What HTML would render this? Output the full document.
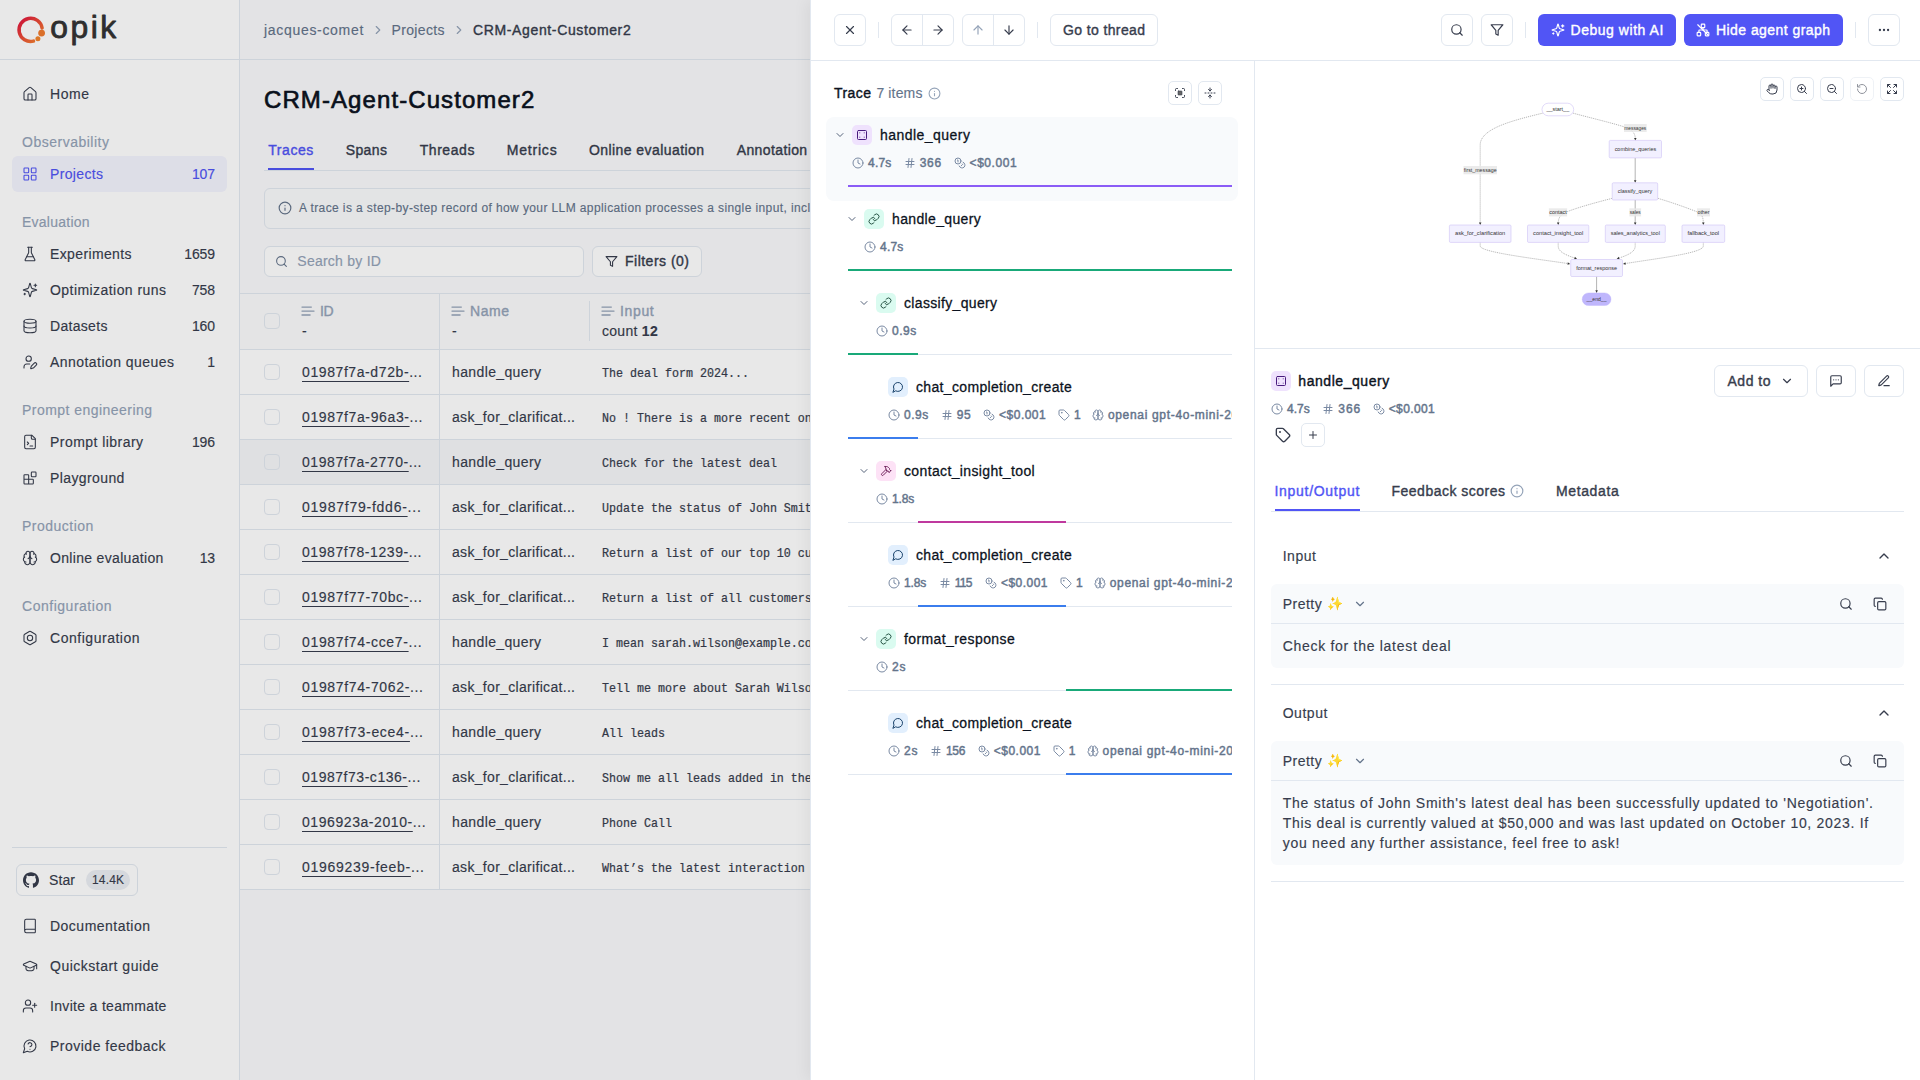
<!DOCTYPE html>
<html lang="en"><head><meta charset="utf-8"><title>Opik - CRM-Agent-Customer2</title>
<style>
html,body{margin:0;padding:0}
body{width:1920px;height:1080px;position:relative;overflow:hidden;background:#fff;font-family:"Liberation Sans",sans-serif;-webkit-font-smoothing:antialiased}
.b{position:absolute;display:block}
.t{position:absolute;white-space:nowrap;display:block}
.mono{font-family:"Liberation Mono",monospace;transform:scaleY(1.10);transform-origin:0 58%}
u{text-decoration:underline;text-underline-offset:4px;text-decoration-thickness:1px}
svg{display:block}
</style></head><body>
<aside>
<svg class="b" style="left:10px;top:5px" width="120" height="50" viewBox="10 5 120 50">
<defs><linearGradient id="lg" gradientUnits="userSpaceOnUse" x1="19" y1="18" x2="42" y2="42"><stop offset="0" stop-color="#E0103F"></stop><stop offset="1" stop-color="#F58B2E"></stop></linearGradient></defs>
<path d="M33.5 41.1 A11.6 11.6 0 1 1 42.1 28.1" fill="none" stroke="url(#lg)" stroke-width="3.5" stroke-linecap="round"></path>
<circle cx="41.6" cy="33.1" r="3.4" fill="#F07A2E"></circle><circle cx="37.9" cy="38.8" r="2.5" fill="#F2842E"></circle>
<text x="50.2" y="38.3" font-family="Liberation Sans, sans-serif" font-size="31.8" fill="#333" stroke="#333" stroke-width="0.85" stroke-linejoin="round" textLength="66" lengthAdjust="spacing">opik</text>
</svg>
<div class="b" style="left:0px;top:59px;width:239px;height:1px;background:#E2E8F0"></div>
<div class="b" style="left:239px;top:0px;width:1px;height:1080px;background:#E2E8F0"></div>
<svg width="16" height="16" viewBox="0 0 24 24" fill="none" stroke="#373D4D" stroke-width="1.6" stroke-linecap="round" stroke-linejoin="round" style="flex:none;position:absolute;left:22px;top:86px;"><path d="M15 21v-8a1 1 0 0 0-1-1h-4a1 1 0 0 0-1 1v8"></path><path d="M3 10a2 2 0 0 1 .709-1.528l7-5.999a2 2 0 0 1 2.582 0l7 5.999A2 2 0 0 1 21 10v9a2 2 0 0 1-2 2H5a2 2 0 0 1-2-2z"></path></svg><span class="t " style="left: 50px; top: 84px; font-size: 14px; line-height: 20px; color: rgb(55, 61, 77); font-weight: 400; -webkit-text-stroke: 0.15px rgb(55, 61, 77); letter-spacing: 0.547px;">Home</span>
<span class="t " style="left: 22px; top: 132px; font-size: 14px; line-height: 20px; color: rgb(148, 163, 184); font-weight: 400; -webkit-text-stroke: 0.15px rgb(148, 163, 184); letter-spacing: 0.507px;">Observability</span>
<div class="b" style="left:12px;top:156px;width:215px;height:36px;background:#F3F4FE;border-radius:6px"></div><svg width="16" height="16" viewBox="0 0 24 24" fill="none" stroke="#5155F5" stroke-width="1.6" stroke-linecap="round" stroke-linejoin="round" style="flex:none;position:absolute;left:22px;top:166px;"><rect width="7" height="7" x="3" y="3" rx="1"></rect><rect width="7" height="7" x="14" y="3" rx="1"></rect><rect width="7" height="7" x="14" y="14" rx="1"></rect><rect width="7" height="7" x="3" y="14" rx="1"></rect></svg><span class="t " style="left: 50px; top: 164px; font-size: 14px; line-height: 20px; color: rgb(81, 85, 245); font-weight: 400; -webkit-text-stroke: 0.15px rgb(81, 85, 245); letter-spacing: 0.346px;">Projects</span><span class="t " style="right:1705px;top:164.0px;font-size:14px;line-height:20px;color:#5155F5;font-weight:400;-webkit-text-stroke:0.15px #5155F5;letter-spacing:-0.1px">107</span>
<span class="t " style="left: 22px; top: 212px; font-size: 14px; line-height: 20px; color: rgb(148, 163, 184); font-weight: 400; -webkit-text-stroke: 0.15px rgb(148, 163, 184); letter-spacing: 0.245px;">Evaluation</span>
<svg width="16" height="16" viewBox="0 0 24 24" fill="none" stroke="#373D4D" stroke-width="1.6" stroke-linecap="round" stroke-linejoin="round" style="flex:none;position:absolute;left:22px;top:246px;"><path d="M10 2v7.527a2 2 0 0 1-.211.896L4.72 20.55a1 1 0 0 0 .9 1.45h12.76a1 1 0 0 0 .9-1.45l-5.069-10.127A2 2 0 0 1 14 9.527V2"></path><path d="M8.5 2h7"></path><path d="M7 16h10"></path></svg><span class="t " style="left: 50px; top: 244px; font-size: 14px; line-height: 20px; color: rgb(55, 61, 77); font-weight: 400; -webkit-text-stroke: 0.15px rgb(55, 61, 77); letter-spacing: 0.369px;">Experiments</span><span class="t " style="right:1705px;top:244.0px;font-size:14px;line-height:20px;color:#373D4D;font-weight:400;-webkit-text-stroke:0.15px #373D4D;letter-spacing:-0.1px">1659</span>
<svg width="16" height="16" viewBox="0 0 24 24" fill="none" stroke="#373D4D" stroke-width="1.6" stroke-linecap="round" stroke-linejoin="round" style="flex:none;position:absolute;left:22px;top:282px;"><path d="M9.937 15.5A2 2 0 0 0 8.5 14.063l-6.135-1.582a.5.5 0 0 1 0-.962L8.5 9.936A2 2 0 0 0 9.937 8.5l1.582-6.135a.5.5 0 0 1 .963 0L14.063 8.5A2 2 0 0 0 15.5 9.937l6.135 1.581a.5.5 0 0 1 0 .964L15.5 14.063a2 2 0 0 0-1.437 1.437l-1.582 6.135a.5.5 0 0 1-.963 0z"></path><path d="M20 3v4"></path><path d="M22 5h-4"></path><path d="M4 17v2"></path><path d="M5 18H3"></path></svg><span class="t " style="left: 50px; top: 280px; font-size: 14px; line-height: 20px; color: rgb(55, 61, 77); font-weight: 400; -webkit-text-stroke: 0.15px rgb(55, 61, 77); letter-spacing: 0.441px;">Optimization runs</span><span class="t " style="right:1705px;top:280.0px;font-size:14px;line-height:20px;color:#373D4D;font-weight:400;-webkit-text-stroke:0.15px #373D4D;letter-spacing:-0.1px">758</span>
<svg width="16" height="16" viewBox="0 0 24 24" fill="none" stroke="#373D4D" stroke-width="1.6" stroke-linecap="round" stroke-linejoin="round" style="flex:none;position:absolute;left:22px;top:318px;"><ellipse cx="12" cy="5" rx="9" ry="3"></ellipse><path d="M3 5V19A9 3 0 0 0 21 19V5"></path><path d="M3 12A9 3 0 0 0 21 12"></path></svg><span class="t " style="left: 50px; top: 316px; font-size: 14px; line-height: 20px; color: rgb(55, 61, 77); font-weight: 400; -webkit-text-stroke: 0.15px rgb(55, 61, 77); letter-spacing: 0.307px;">Datasets</span><span class="t " style="right:1705px;top:316.0px;font-size:14px;line-height:20px;color:#373D4D;font-weight:400;-webkit-text-stroke:0.15px #373D4D;letter-spacing:-0.1px">160</span>
<svg width="16" height="16" viewBox="0 0 24 24" fill="none" stroke="#373D4D" stroke-width="1.6" stroke-linecap="round" stroke-linejoin="round" style="flex:none;position:absolute;left:22px;top:354px;"><path d="M11.5 15H7a4 4 0 0 0-4 4v2"></path><path d="M21.378 16.626a1 1 0 0 0-3.004-3.004l-4.01 4.012a2 2 0 0 0-.506.854l-.837 2.87a.5.5 0 0 0 .62.62l2.87-.837a2 2 0 0 0 .854-.506z"></path><circle cx="10" cy="7" r="4"></circle></svg><span class="t " style="left: 50px; top: 352px; font-size: 14px; line-height: 20px; color: rgb(55, 61, 77); font-weight: 400; -webkit-text-stroke: 0.15px rgb(55, 61, 77); letter-spacing: 0.452px;">Annotation queues</span><span class="t " style="right:1705px;top:352.0px;font-size:14px;line-height:20px;color:#373D4D;font-weight:400;-webkit-text-stroke:0.15px #373D4D;letter-spacing:-0.1px">1</span>
<span class="t " style="left: 22px; top: 400px; font-size: 14px; line-height: 20px; color: rgb(148, 163, 184); font-weight: 400; -webkit-text-stroke: 0.15px rgb(148, 163, 184); letter-spacing: 0.46px;">Prompt engineering</span>
<svg width="16" height="16" viewBox="0 0 24 24" fill="none" stroke="#373D4D" stroke-width="1.6" stroke-linecap="round" stroke-linejoin="round" style="flex:none;position:absolute;left:22px;top:434px;"><path d="M15 2H6a2 2 0 0 0-2 2v16a2 2 0 0 0 2 2h12a2 2 0 0 0 2-2V7Z"></path><path d="M14 2v4a2 2 0 0 0 2 2h4"></path><path d="m8 16 2-2-2-2"></path><path d="M12 18h4"></path></svg><span class="t " style="left: 50px; top: 432px; font-size: 14px; line-height: 20px; color: rgb(55, 61, 77); font-weight: 400; -webkit-text-stroke: 0.15px rgb(55, 61, 77); letter-spacing: 0.451px;">Prompt library</span><span class="t " style="right:1705px;top:432.0px;font-size:14px;line-height:20px;color:#373D4D;font-weight:400;-webkit-text-stroke:0.15px #373D4D;letter-spacing:-0.1px">196</span>
<svg width="16" height="16" viewBox="0 0 24 24" fill="none" stroke="#373D4D" stroke-width="1.6" stroke-linecap="round" stroke-linejoin="round" style="flex:none;position:absolute;left:22px;top:470px;"><rect width="7" height="7" x="14" y="3" rx="1"></rect><path d="M10 21V8a1 1 0 0 0-1-1H4a1 1 0 0 0-1 1v12a1 1 0 0 0 1 1h12a1 1 0 0 0 1-1v-5a1 1 0 0 0-1-1H3"></path></svg><span class="t " style="left: 50px; top: 468px; font-size: 14px; line-height: 20px; color: rgb(55, 61, 77); font-weight: 400; -webkit-text-stroke: 0.15px rgb(55, 61, 77); letter-spacing: 0.397px;">Playground</span>
<span class="t " style="left: 22px; top: 516px; font-size: 14px; line-height: 20px; color: rgb(148, 163, 184); font-weight: 400; -webkit-text-stroke: 0.15px rgb(148, 163, 184); letter-spacing: 0.485px;">Production</span>
<svg width="16" height="16" viewBox="0 0 24 24" fill="none" stroke="#373D4D" stroke-width="1.6" stroke-linecap="round" stroke-linejoin="round" style="flex:none;position:absolute;left:22px;top:550px;"><path d="M12 5a3 3 0 1 0-5.997.125 4 4 0 0 0-2.526 5.77 4 4 0 0 0 .556 6.588A4 4 0 1 0 12 18Z"></path><path d="M12 5a3 3 0 1 1 5.997.125 4 4 0 0 1 2.526 5.77 4 4 0 0 1-.556 6.588A4 4 0 1 1 12 18Z"></path><path d="M15 13a4.5 4.5 0 0 1-3-4 4.5 4.5 0 0 1-3 4"></path><path d="M17.599 6.5a3 3 0 0 0 .399-1.375"></path><path d="M6.003 5.125A3 3 0 0 0 6.401 6.5"></path><path d="M3.477 10.896a4 4 0 0 1 .585-.396"></path><path d="M19.938 10.5a4 4 0 0 1 .585.396"></path><path d="M6 18a4 4 0 0 1-1.967-.516"></path><path d="M19.967 17.484A4 4 0 0 1 18 18"></path></svg><span class="t " style="left: 50px; top: 548px; font-size: 14px; line-height: 20px; color: rgb(55, 61, 77); font-weight: 400; -webkit-text-stroke: 0.15px rgb(55, 61, 77); letter-spacing: 0.32px;">Online evaluation</span><span class="t " style="right:1705px;top:548.0px;font-size:14px;line-height:20px;color:#373D4D;font-weight:400;-webkit-text-stroke:0.15px #373D4D;letter-spacing:-0.1px">13</span>
<span class="t " style="left: 22px; top: 596px; font-size: 14px; line-height: 20px; color: rgb(148, 163, 184); font-weight: 400; -webkit-text-stroke: 0.15px rgb(148, 163, 184); letter-spacing: 0.518px;">Configuration</span>
<svg width="16" height="16" viewBox="0 0 24 24" fill="none" stroke="#373D4D" stroke-width="1.6" stroke-linecap="round" stroke-linejoin="round" style="flex:none;position:absolute;left:22px;top:630px;"><path d="M21 16V8a2 2 0 0 0-1-1.73l-7-4a2 2 0 0 0-2 0l-7 4A2 2 0 0 0 3 8v8a2 2 0 0 0 1 1.73l7 4a2 2 0 0 0 2 0l7-4A2 2 0 0 0 21 16z"></path><circle cx="12" cy="12" r="4"></circle></svg><span class="t " style="left: 50px; top: 628px; font-size: 14px; line-height: 20px; color: rgb(55, 61, 77); font-weight: 400; -webkit-text-stroke: 0.15px rgb(55, 61, 77); letter-spacing: 0.527px;">Configuration</span>
<div class="b" style="left:12px;top:847px;width:215px;height:1px;background:#E2E8F0"></div>
<div class="b" style="left:16px;top:864px;width:122px;height:32px;border:1px solid #E2E8F0;border-radius:6px;box-sizing:border-box"></div>
<svg class="b" style="left:23px;top:872px" width="16" height="16" viewBox="0 0 24 24"><path fill="#373D4D" d="M12 .297c-6.63 0-12 5.373-12 12 0 5.303 3.438 9.8 8.205 11.385.6.113.82-.258.82-.577 0-.285-.01-1.04-.015-2.04-3.338.724-4.042-1.61-4.042-1.61C4.422 18.07 3.633 17.7 3.633 17.7c-1.087-.744.084-.729.084-.729 1.205.084 1.838 1.236 1.838 1.236 1.07 1.835 2.809 1.305 3.495.998.108-.776.417-1.305.76-1.605-2.665-.3-5.466-1.332-5.466-5.93 0-1.31.465-2.38 1.235-3.22-.135-.303-.54-1.523.105-3.176 0 0 1.005-.322 3.3 1.23.96-.267 1.98-.399 3-.405 1.02.006 2.04.138 3 .405 2.28-1.552 3.285-1.23 3.285-1.23.645 1.653.24 2.873.12 3.176.765.84 1.23 1.91 1.23 3.22 0 4.61-2.805 5.625-5.475 5.92.42.36.81 1.096.81 2.22 0 1.606-.015 2.896-.015 3.286 0 .315.21.69.825.57C20.565 22.092 24 17.592 24 12.297c0-6.627-5.373-12-12-12"></path></svg>
<span class="t " style="left: 49px; top: 870px; font-size: 14px; line-height: 20px; color: rgb(55, 61, 77); font-weight: 400; -webkit-text-stroke: 0.15px rgb(55, 61, 77); letter-spacing: 0.104px;">Star</span>
<div class="b" style="left:86px;top:870px;width:44px;height:20px;background:#EBEEF3;border-radius:10px"></div>
<span class="t " style="left: 92px; top: 872px; font-size: 12px; line-height: 16px; color: rgb(55, 61, 77); font-weight: 400; -webkit-text-stroke: 0.13px rgb(55, 61, 77); letter-spacing: 0.16px;">14.4K</span>
<svg width="16" height="16" viewBox="0 0 24 24" fill="none" stroke="#373D4D" stroke-width="1.6" stroke-linecap="round" stroke-linejoin="round" style="flex:none;position:absolute;left:22px;top:918px;"><path d="M4 19.5v-15A2.5 2.5 0 0 1 6.5 2H19a1 1 0 0 1 1 1v18a1 1 0 0 1-1 1H6.5a1 1 0 0 1 0-5H20"></path></svg><span class="t " style="left: 50px; top: 916px; font-size: 14px; line-height: 20px; color: rgb(55, 61, 77); font-weight: 400; -webkit-text-stroke: 0.15px rgb(55, 61, 77); letter-spacing: 0.486px;">Documentation</span>
<svg width="16" height="16" viewBox="0 0 24 24" fill="none" stroke="#373D4D" stroke-width="1.6" stroke-linecap="round" stroke-linejoin="round" style="flex:none;position:absolute;left:22px;top:958px;"><path d="M21.42 10.922a1 1 0 0 0-.019-1.838L12.83 5.18a2 2 0 0 0-1.66 0L2.6 9.08a1 1 0 0 0 0 1.832l8.57 3.908a2 2 0 0 0 1.66 0z"></path><path d="M22 10v6"></path><path d="M6 12.5V16a6 3 0 0 0 12 0v-3.5"></path></svg><span class="t " style="left: 50px; top: 956px; font-size: 14px; line-height: 20px; color: rgb(55, 61, 77); font-weight: 400; -webkit-text-stroke: 0.15px rgb(55, 61, 77); letter-spacing: 0.495px;">Quickstart guide</span>
<svg width="16" height="16" viewBox="0 0 24 24" fill="none" stroke="#373D4D" stroke-width="1.6" stroke-linecap="round" stroke-linejoin="round" style="flex:none;position:absolute;left:22px;top:998px;"><path d="M16 21v-2a4 4 0 0 0-4-4H6a4 4 0 0 0-4 4v2"></path><circle cx="9" cy="7" r="4"></circle><line x1="19" x2="19" y1="8" y2="14"></line><line x1="22" x2="16" y1="11" y2="11"></line></svg><span class="t " style="left: 50px; top: 996px; font-size: 14px; line-height: 20px; color: rgb(55, 61, 77); font-weight: 400; -webkit-text-stroke: 0.15px rgb(55, 61, 77); letter-spacing: 0.32px;">Invite a teammate</span>
<svg width="16" height="16" viewBox="0 0 24 24" fill="none" stroke="#373D4D" stroke-width="1.6" stroke-linecap="round" stroke-linejoin="round" style="flex:none;position:absolute;left:22px;top:1038px;"><path d="M7.9 20A9 9 0 1 0 4 16.1L2 22Z"></path><path d="M9.09 9a3 3 0 0 1 5.83 1c0 2-3 3-3 3"></path><path d="M12 17h.01"></path></svg><span class="t " style="left: 50px; top: 1036px; font-size: 14px; line-height: 20px; color: rgb(55, 61, 77); font-weight: 400; -webkit-text-stroke: 0.15px rgb(55, 61, 77); letter-spacing: 0.494px;">Provide feedback</span>
</aside>
<main>
<div class="b" style="left:240px;top:0px;width:680px;height:1080px;background:#FAFAFC"></div>
<div class="b" style="left:240px;top:59px;width:680px;height:1px;background:#E2E8F0"></div>
<span class="t " style="left: 264px; top: 20px; font-size: 14px; line-height: 20px; color: rgb(100, 116, 139); font-weight: 400; -webkit-text-stroke: 0.15px rgb(100, 116, 139); letter-spacing: 0.688px;">jacques-comet</span>
<svg width="14" height="14" viewBox="0 0 24 24" fill="none" stroke="#94A3B8" stroke-width="2" stroke-linecap="round" stroke-linejoin="round" style="flex:none;position:absolute;left:371px;top:23px;"><path d="m9 18 6-6-6-6"></path></svg>
<span class="t " style="left: 391.5px; top: 20px; font-size: 14px; line-height: 20px; color: rgb(100, 116, 139); font-weight: 400; -webkit-text-stroke: 0.15px rgb(100, 116, 139); letter-spacing: 0.346px;">Projects</span>
<svg width="14" height="14" viewBox="0 0 24 24" fill="none" stroke="#94A3B8" stroke-width="2" stroke-linecap="round" stroke-linejoin="round" style="flex:none;position:absolute;left:452px;top:23px;"><path d="m9 18 6-6-6-6"></path></svg>
<span class="t " style="left: 473px; top: 20px; font-size: 14px; line-height: 20px; color: rgb(55, 61, 77); font-weight: 400; -webkit-text-stroke: 0.38px rgb(55, 61, 77); letter-spacing: 0.635px;">CRM-Agent-Customer2</span>
<span class="t h1" style="left: 264px; top: 84px; font-size: 24px; line-height: 32px; color: rgb(11, 18, 32); font-weight: 400; -webkit-text-stroke: 0.65px rgb(11, 18, 32); letter-spacing: 1.087px;">CRM-Agent-Customer2</span>
<span class="t " style="left: 268.3px; top: 140px; font-size: 14px; line-height: 20px; color: rgb(81, 85, 245); font-weight: 400; -webkit-text-stroke: 0.38px rgb(81, 85, 245); letter-spacing: 0.544px;">Traces</span>
<span class="t " style="left: 345.7px; top: 140px; font-size: 14px; line-height: 20px; color: rgb(55, 61, 77); font-weight: 400; -webkit-text-stroke: 0.38px rgb(55, 61, 77); letter-spacing: 0.399px;">Spans</span>
<span class="t " style="left: 419.7px; top: 140px; font-size: 14px; line-height: 20px; color: rgb(55, 61, 77); font-weight: 400; -webkit-text-stroke: 0.38px rgb(55, 61, 77); letter-spacing: 0.557px;">Threads</span>
<span class="t " style="left: 506.7px; top: 140px; font-size: 14px; line-height: 20px; color: rgb(55, 61, 77); font-weight: 400; -webkit-text-stroke: 0.38px rgb(55, 61, 77); letter-spacing: 0.813px;">Metrics</span>
<span class="t " style="left: 589px; top: 140px; font-size: 14px; line-height: 20px; color: rgb(55, 61, 77); font-weight: 400; -webkit-text-stroke: 0.38px rgb(55, 61, 77); letter-spacing: 0.426px;">Online evaluation</span>
<span class="t " style="left: 736.7px; top: 140px; font-size: 14px; line-height: 20px; color: rgb(55, 61, 77); font-weight: 400; -webkit-text-stroke: 0.38px rgb(55, 61, 77); letter-spacing: 0.39px;">Annotation queues</span>
<div class="b" style="left:264px;top:170px;width:680px;height:1px;background:#E2E8F0"></div>
<div class="b" style="left:268px;top:168px;width:45.5px;height:2px;background:#5155F5"></div>
<div class="b" style="left:264px;top:188px;width:700px;height:41px;border:1px solid #E2E8F0;border-radius:6px;box-sizing:border-box;background:#FAFBFC"></div>
<svg width="14" height="14" viewBox="0 0 24 24" fill="none" stroke="#64748B" stroke-width="2" stroke-linecap="round" stroke-linejoin="round" style="flex:none;position:absolute;left:278px;top:201px;"><circle cx="12" cy="12" r="10"></circle><path d="M12 16v-4"></path><path d="M12 8h.01"></path></svg>
<span class="t " style="left:299px;top:200.0px;font-size:12px;line-height:16px;color:#64748B;font-weight:400;-webkit-text-stroke:0.13px #64748B;letter-spacing:0.395px;white-space:nowrap">A trace is a step-by-step record of how your LLM application processes a single input, including LLM calls, tool usage and more.</span>
<div class="b" style="left:264px;top:245.6px;width:320px;height:31px;border:1px solid #E2E8F0;border-radius:6px;box-sizing:border-box;background:#fff"></div>
<svg width="13" height="13" viewBox="0 0 24 24" fill="none" stroke="#64748B" stroke-width="2" stroke-linecap="round" stroke-linejoin="round" style="flex:none;position:absolute;left:274.5px;top:254.5px;"><circle cx="11" cy="11" r="8"></circle><path d="m21 21-4.3-4.3"></path></svg>
<span class="t " style="left: 297.3px; top: 251px; font-size: 14px; line-height: 20px; color: rgb(148, 163, 184); font-weight: 400; -webkit-text-stroke: 0.15px rgb(148, 163, 184); letter-spacing: 0.251px;">Search by ID</span>
<div class="b" style="left:592px;top:245.6px;width:110px;height:31px;border:1px solid #E2E8F0;border-radius:6px;box-sizing:border-box;background:#fff"></div>
<svg width="13" height="13" viewBox="0 0 24 24" fill="none" stroke="#373D4D" stroke-width="2" stroke-linecap="round" stroke-linejoin="round" style="flex:none;position:absolute;left:605px;top:254.5px;"><polygon points="22 3 2 3 10 12.46 10 19 14 21 14 12.46 22 3"></polygon></svg>
<span class="t " style="left: 625px; top: 251px; font-size: 14px; line-height: 20px; color: rgb(55, 61, 77); font-weight: 400; -webkit-text-stroke: 0.38px rgb(55, 61, 77); letter-spacing: 0.487px;">Filters (0)</span>
<div class="b" style="left:240px;top:293px;width:680px;height:1px;background:#E2E8F0"></div>
<div class="b" style="left:240px;top:294px;width:680px;height:55px;background:#FBFBFC"></div>
<div class="b" style="left:240px;top:350px;width:680px;height:44px;background:#FFFFFF"></div>
<div class="b" style="left:240px;top:394px;width:680px;height:1px;background:#E2E8F0"></div>
<div class="b" style="left:240px;top:395px;width:680px;height:44px;background:#FFFFFF"></div>
<div class="b" style="left:240px;top:439px;width:680px;height:1px;background:#E2E8F0"></div>
<div class="b" style="left:240px;top:440px;width:680px;height:44px;background:#F6F7F9"></div>
<div class="b" style="left:240px;top:484px;width:680px;height:1px;background:#E2E8F0"></div>
<div class="b" style="left:240px;top:485px;width:680px;height:44px;background:#FFFFFF"></div>
<div class="b" style="left:240px;top:529px;width:680px;height:1px;background:#E2E8F0"></div>
<div class="b" style="left:240px;top:530px;width:680px;height:44px;background:#FFFFFF"></div>
<div class="b" style="left:240px;top:574px;width:680px;height:1px;background:#E2E8F0"></div>
<div class="b" style="left:240px;top:575px;width:680px;height:44px;background:#FFFFFF"></div>
<div class="b" style="left:240px;top:619px;width:680px;height:1px;background:#E2E8F0"></div>
<div class="b" style="left:240px;top:620px;width:680px;height:44px;background:#FFFFFF"></div>
<div class="b" style="left:240px;top:664px;width:680px;height:1px;background:#E2E8F0"></div>
<div class="b" style="left:240px;top:665px;width:680px;height:44px;background:#FFFFFF"></div>
<div class="b" style="left:240px;top:709px;width:680px;height:1px;background:#E2E8F0"></div>
<div class="b" style="left:240px;top:710px;width:680px;height:44px;background:#FFFFFF"></div>
<div class="b" style="left:240px;top:754px;width:680px;height:1px;background:#E2E8F0"></div>
<div class="b" style="left:240px;top:755px;width:680px;height:44px;background:#FFFFFF"></div>
<div class="b" style="left:240px;top:799px;width:680px;height:1px;background:#E2E8F0"></div>
<div class="b" style="left:240px;top:800px;width:680px;height:44px;background:#FFFFFF"></div>
<div class="b" style="left:240px;top:844px;width:680px;height:1px;background:#E2E8F0"></div>
<div class="b" style="left:240px;top:845px;width:680px;height:44px;background:#FFFFFF"></div>
<div class="b" style="left:240px;top:889px;width:680px;height:1px;background:#E2E8F0"></div>
<div class="b" style="left:240px;top:349px;width:680px;height:1px;background:#E2E8F0"></div>
<div class="b" style="left:439px;top:294px;width:1px;height:596px;background:#E2E8F0"></div>
<div class="b" style="left:589px;top:301px;width:1px;height:40px;background:#E2E8F0"></div>
<div class="b" style="left:264px;top:313px;width:16px;height:16px;border:1px solid #E2E8F0;border-radius:4px;box-sizing:border-box;background:transparent"></div>
<svg width="16" height="16" viewBox="0 0 24 24" fill="none" stroke="#94A3B8" stroke-width="2" stroke-linecap="round" stroke-linejoin="round" style="flex:none;position:absolute;left:300px;top:303.3px;"><path d="M17 6.1H3"></path><path d="M21 12.1H3"></path><path d="M15.1 18H3"></path></svg>
<span class="t " style="left: 320px; top: 301px; font-size: 14px; line-height: 20px; color: rgb(148, 163, 184); font-weight: 400; -webkit-text-stroke: 0.38px rgb(148, 163, 184); letter-spacing: -0.5px;">ID</span>
<svg width="16" height="16" viewBox="0 0 24 24" fill="none" stroke="#94A3B8" stroke-width="2" stroke-linecap="round" stroke-linejoin="round" style="flex:none;position:absolute;left:450px;top:303.3px;"><path d="M17 6.1H3"></path><path d="M21 12.1H3"></path><path d="M15.1 18H3"></path></svg>
<span class="t " style="left: 470px; top: 301px; font-size: 14px; line-height: 20px; color: rgb(148, 163, 184); font-weight: 400; -webkit-text-stroke: 0.38px rgb(148, 163, 184); letter-spacing: 0.547px;">Name</span>
<svg width="16" height="16" viewBox="0 0 24 24" fill="none" stroke="#94A3B8" stroke-width="2" stroke-linecap="round" stroke-linejoin="round" style="flex:none;position:absolute;left:600px;top:303.3px;"><path d="M17 6.1H3"></path><path d="M21 12.1H3"></path><path d="M15.1 18H3"></path></svg>
<span class="t " style="left: 620px; top: 301px; font-size: 14px; line-height: 20px; color: rgb(148, 163, 184); font-weight: 400; -webkit-text-stroke: 0.38px rgb(148, 163, 184); letter-spacing: 0.64px;">Input</span>
<span class="t " style="left:302px;top:321.0px;font-size:14px;line-height:20px;color:#373D4D;font-weight:400;-webkit-text-stroke:0.15px #373D4D;">-</span>
<span class="t " style="left:452px;top:321.0px;font-size:14px;line-height:20px;color:#373D4D;font-weight:400;-webkit-text-stroke:0.15px #373D4D;">-</span>
<span class="t " style="left: 602px; top: 321px; font-size: 14px; line-height: 20px; color: rgb(55, 61, 77); font-weight: 400; -webkit-text-stroke: 0.15px rgb(55, 61, 77); letter-spacing: 0.283px;">count <b style="font-weight:700">12</b></span>
<div class="b" style="left:264px;top:364px;width:16px;height:16px;border:1px solid #E2E8F0;border-radius:4px;box-sizing:border-box;background:transparent"></div>
<span class="t " style="left: 302px; top: 362px; font-size: 14px; line-height: 20px; color: rgb(55, 61, 77); font-weight: 400; -webkit-text-stroke: 0.15px rgb(55, 61, 77); letter-spacing: 0.591px;"><u>01987f7a-d72b-</u>...</span>
<span class="t " style="left: 452px; top: 362px; font-size: 14px; line-height: 20px; color: rgb(55, 61, 77); font-weight: 400; -webkit-text-stroke: 0.15px rgb(55, 61, 77); letter-spacing: 0.376px;">handle_query</span>
<span class="t mono" style="left:602px;top:366.0px;font-size:11.67px;line-height:16px;color:#373D4D;font-weight:400;white-space:pre;-webkit-text-stroke:0.2px #373D4D">The deal form 2024...</span>
<div class="b" style="left:264px;top:409px;width:16px;height:16px;border:1px solid #E2E8F0;border-radius:4px;box-sizing:border-box;background:transparent"></div>
<span class="t " style="left: 302px; top: 407px; font-size: 14px; line-height: 20px; color: rgb(55, 61, 77); font-weight: 400; -webkit-text-stroke: 0.15px rgb(55, 61, 77); letter-spacing: 0.622px;"><u>01987f7a-96a3-</u>...</span>
<span class="t " style="left: 452px; top: 407px; font-size: 14px; line-height: 20px; color: rgb(55, 61, 77); font-weight: 400; -webkit-text-stroke: 0.15px rgb(55, 61, 77); letter-spacing: 0.314px;">ask_for_clarificat...</span>
<span class="t mono" style="left:602px;top:411.0px;font-size:11.67px;line-height:16px;color:#373D4D;font-weight:400;white-space:pre;-webkit-text-stroke:0.2px #373D4D">No ! There is a more recent one I believe</span>
<div class="b" style="left:264px;top:454px;width:16px;height:16px;border:1px solid #E2E8F0;border-radius:4px;box-sizing:border-box;background:transparent"></div>
<span class="t " style="left: 302px; top: 452px; font-size: 14px; line-height: 20px; color: rgb(55, 61, 77); font-weight: 400; -webkit-text-stroke: 0.15px rgb(55, 61, 77); letter-spacing: 0.56px;"><u>01987f7a-2770-</u>...</span>
<span class="t " style="left: 452px; top: 452px; font-size: 14px; line-height: 20px; color: rgb(55, 61, 77); font-weight: 400; -webkit-text-stroke: 0.15px rgb(55, 61, 77); letter-spacing: 0.376px;">handle_query</span>
<span class="t mono" style="left:602px;top:456.0px;font-size:11.67px;line-height:16px;color:#373D4D;font-weight:400;white-space:pre;-webkit-text-stroke:0.2px #373D4D">Check for the latest deal</span>
<div class="b" style="left:264px;top:499px;width:16px;height:16px;border:1px solid #E2E8F0;border-radius:4px;box-sizing:border-box;background:transparent"></div>
<span class="t " style="left: 302px; top: 497px; font-size: 14px; line-height: 20px; color: rgb(55, 61, 77); font-weight: 400; -webkit-text-stroke: 0.15px rgb(55, 61, 77); letter-spacing: 0.76px;"><u>01987f79-fdd6-</u>...</span>
<span class="t " style="left: 452px; top: 497px; font-size: 14px; line-height: 20px; color: rgb(55, 61, 77); font-weight: 400; -webkit-text-stroke: 0.15px rgb(55, 61, 77); letter-spacing: 0.314px;">ask_for_clarificat...</span>
<span class="t mono" style="left:602px;top:501.0px;font-size:11.67px;line-height:16px;color:#373D4D;font-weight:400;white-space:pre;-webkit-text-stroke:0.2px #373D4D">Update the status of John Smith's latest deal</span>
<div class="b" style="left:264px;top:544px;width:16px;height:16px;border:1px solid #E2E8F0;border-radius:4px;box-sizing:border-box;background:transparent"></div>
<span class="t " style="left: 302px; top: 542px; font-size: 14px; line-height: 20px; color: rgb(55, 61, 77); font-weight: 400; -webkit-text-stroke: 0.15px rgb(55, 61, 77); letter-spacing: 0.56px;"><u>01987f78-1239-</u>...</span>
<span class="t " style="left: 452px; top: 542px; font-size: 14px; line-height: 20px; color: rgb(55, 61, 77); font-weight: 400; -webkit-text-stroke: 0.15px rgb(55, 61, 77); letter-spacing: 0.314px;">ask_for_clarificat...</span>
<span class="t mono" style="left:602px;top:546.0px;font-size:11.67px;line-height:16px;color:#373D4D;font-weight:400;white-space:pre;-webkit-text-stroke:0.2px #373D4D">Return a list of our top 10 customers</span>
<div class="b" style="left:264px;top:589px;width:16px;height:16px;border:1px solid #E2E8F0;border-radius:4px;box-sizing:border-box;background:transparent"></div>
<span class="t " style="left: 302px; top: 587px; font-size: 14px; line-height: 20px; color: rgb(55, 61, 77); font-weight: 400; -webkit-text-stroke: 0.15px rgb(55, 61, 77); letter-spacing: 0.641px;"><u>01987f77-70bc-</u>...</span>
<span class="t " style="left: 452px; top: 587px; font-size: 14px; line-height: 20px; color: rgb(55, 61, 77); font-weight: 400; -webkit-text-stroke: 0.15px rgb(55, 61, 77); letter-spacing: 0.314px;">ask_for_clarificat...</span>
<span class="t mono" style="left:602px;top:591.0px;font-size:11.67px;line-height:16px;color:#373D4D;font-weight:400;white-space:pre;-webkit-text-stroke:0.2px #373D4D">Return a list of all customers</span>
<div class="b" style="left:264px;top:634px;width:16px;height:16px;border:1px solid #E2E8F0;border-radius:4px;box-sizing:border-box;background:transparent"></div>
<span class="t " style="left: 302px; top: 632px; font-size: 14px; line-height: 20px; color: rgb(55, 61, 77); font-weight: 400; -webkit-text-stroke: 0.15px rgb(55, 61, 77); letter-spacing: 0.664px;"><u>01987f74-cce7-</u>...</span>
<span class="t " style="left: 452px; top: 632px; font-size: 14px; line-height: 20px; color: rgb(55, 61, 77); font-weight: 400; -webkit-text-stroke: 0.15px rgb(55, 61, 77); letter-spacing: 0.376px;">handle_query</span>
<span class="t mono" style="left:602px;top:636.0px;font-size:11.67px;line-height:16px;color:#373D4D;font-weight:400;white-space:pre;-webkit-text-stroke:0.2px #373D4D">I mean sarah.wilson@example.com</span>
<div class="b" style="left:264px;top:679px;width:16px;height:16px;border:1px solid #E2E8F0;border-radius:4px;box-sizing:border-box;background:transparent"></div>
<span class="t " style="left: 302px; top: 677px; font-size: 14px; line-height: 20px; color: rgb(55, 61, 77); font-weight: 400; -webkit-text-stroke: 0.15px rgb(55, 61, 77); letter-spacing: 0.653px;"><u>01987f74-7062-</u>...</span>
<span class="t " style="left: 452px; top: 677px; font-size: 14px; line-height: 20px; color: rgb(55, 61, 77); font-weight: 400; -webkit-text-stroke: 0.15px rgb(55, 61, 77); letter-spacing: 0.314px;">ask_for_clarificat...</span>
<span class="t mono" style="left:602px;top:681.0px;font-size:11.67px;line-height:16px;color:#373D4D;font-weight:400;white-space:pre;-webkit-text-stroke:0.2px #373D4D">Tell me more about Sarah Wilson</span>
<div class="b" style="left:264px;top:724px;width:16px;height:16px;border:1px solid #E2E8F0;border-radius:4px;box-sizing:border-box;background:transparent"></div>
<span class="t " style="left: 302px; top: 722px; font-size: 14px; line-height: 20px; color: rgb(55, 61, 77); font-weight: 400; -webkit-text-stroke: 0.15px rgb(55, 61, 77); letter-spacing: 0.703px;"><u>01987f73-ece4-</u>...</span>
<span class="t " style="left: 452px; top: 722px; font-size: 14px; line-height: 20px; color: rgb(55, 61, 77); font-weight: 400; -webkit-text-stroke: 0.15px rgb(55, 61, 77); letter-spacing: 0.376px;">handle_query</span>
<span class="t mono" style="left:602px;top:726.0px;font-size:11.67px;line-height:16px;color:#373D4D;font-weight:400;white-space:pre;-webkit-text-stroke:0.2px #373D4D">All leads</span>
<div class="b" style="left:264px;top:769px;width:16px;height:16px;border:1px solid #E2E8F0;border-radius:4px;box-sizing:border-box;background:transparent"></div>
<span class="t " style="left: 302px; top: 767px; font-size: 14px; line-height: 20px; color: rgb(55, 61, 77); font-weight: 400; -webkit-text-stroke: 0.15px rgb(55, 61, 77); letter-spacing: 0.534px;"><u>01987f73-c136-</u>...</span>
<span class="t " style="left: 452px; top: 767px; font-size: 14px; line-height: 20px; color: rgb(55, 61, 77); font-weight: 400; -webkit-text-stroke: 0.15px rgb(55, 61, 77); letter-spacing: 0.314px;">ask_for_clarificat...</span>
<span class="t mono" style="left:602px;top:771.0px;font-size:11.67px;line-height:16px;color:#373D4D;font-weight:400;white-space:pre;-webkit-text-stroke:0.2px #373D4D">Show me all leads added in the last week</span>
<div class="b" style="left:264px;top:814px;width:16px;height:16px;border:1px solid #E2E8F0;border-radius:4px;box-sizing:border-box;background:transparent"></div>
<span class="t " style="left: 302px; top: 812px; font-size: 14px; line-height: 20px; color: rgb(55, 61, 77); font-weight: 400; -webkit-text-stroke: 0.15px rgb(55, 61, 77); letter-spacing: 0.573px;"><u>0196923a-2010-</u>...</span>
<span class="t " style="left: 452px; top: 812px; font-size: 14px; line-height: 20px; color: rgb(55, 61, 77); font-weight: 400; -webkit-text-stroke: 0.15px rgb(55, 61, 77); letter-spacing: 0.376px;">handle_query</span>
<span class="t mono" style="left:602px;top:816.0px;font-size:11.67px;line-height:16px;color:#373D4D;font-weight:400;white-space:pre;-webkit-text-stroke:0.2px #373D4D">Phone Call</span>
<div class="b" style="left:264px;top:859px;width:16px;height:16px;border:1px solid #E2E8F0;border-radius:4px;box-sizing:border-box;background:transparent"></div>
<span class="t " style="left: 302px; top: 857px; font-size: 14px; line-height: 20px; color: rgb(55, 61, 77); font-weight: 400; -webkit-text-stroke: 0.15px rgb(55, 61, 77); letter-spacing: 0.716px;"><u>01969239-feeb-</u>...</span>
<span class="t " style="left: 452px; top: 857px; font-size: 14px; line-height: 20px; color: rgb(55, 61, 77); font-weight: 400; -webkit-text-stroke: 0.15px rgb(55, 61, 77); letter-spacing: 0.314px;">ask_for_clarificat...</span>
<span class="t mono" style="left:602px;top:861.0px;font-size:11.67px;line-height:16px;color:#373D4D;font-weight:400;white-space:pre;-webkit-text-stroke:0.2px #373D4D">What’s the latest interaction with John</span>
</main>
<div class="b" style="left:0;top:0;width:1920px;height:1080px;background:rgba(0,0,0,0.09)"></div>
<section class="panel">
<div class="b" style="left:810px;top:0px;width:1110px;height:1080px;background:#fff;border-left:1px solid #E2E8F0;box-sizing:border-box;box-shadow:-4px 0 14px rgba(0,0,0,0.05)"></div>
<div class="b" style="left:811px;top:60px;width:1109px;height:1px;background:#E2E8F0"></div>
<div class="b" style="left:1254px;top:61px;width:1px;height:1019px;background:#E2E8F0"></div>
<div class="b" style="left:834px;top:14px;width:32px;height:32px;border:1px solid #E2E8F0;border-radius:6px;box-sizing:border-box;background:#fff;"></div>
<svg width="14" height="14" viewBox="0 0 24 24" fill="none" stroke="#373D4D" stroke-width="2" stroke-linecap="round" stroke-linejoin="round" style="flex:none;position:absolute;left:843px;top:23px;"><path d="M18 6 6 18"></path><path d="m6 6 12 12"></path></svg>
<div class="b" style="left:878px;top:22px;width:1px;height:16px;background:#E2E8F0"></div>
<div class="b" style="left:891px;top:14px;width:63px;height:32px;border:1px solid #E2E8F0;border-radius:6px;box-sizing:border-box;background:#fff;"></div>
<div class="b" style="left:922px;top:15px;width:1px;height:30px;background:#E2E8F0"></div>
<svg width="14" height="14" viewBox="0 0 24 24" fill="none" stroke="#373D4D" stroke-width="2" stroke-linecap="round" stroke-linejoin="round" style="flex:none;position:absolute;left:900px;top:23px;"><path d="m12 19-7-7 7-7"></path><path d="M19 12H5"></path></svg>
<svg width="14" height="14" viewBox="0 0 24 24" fill="none" stroke="#373D4D" stroke-width="2" stroke-linecap="round" stroke-linejoin="round" style="flex:none;position:absolute;left:931px;top:23px;"><path d="M5 12h14"></path><path d="m12 5 7 7-7 7"></path></svg>
<div class="b" style="left:962px;top:14px;width:63px;height:32px;border:1px solid #E2E8F0;border-radius:6px;box-sizing:border-box;background:#fff;"></div>
<div class="b" style="left:993px;top:15px;width:1px;height:30px;background:#E2E8F0"></div>
<svg width="14" height="14" viewBox="0 0 24 24" fill="none" stroke="#94A3B8" stroke-width="2" stroke-linecap="round" stroke-linejoin="round" style="flex:none;position:absolute;left:971px;top:23px;"><path d="m5 12 7-7 7 7"></path><path d="M12 19V5"></path></svg>
<svg width="14" height="14" viewBox="0 0 24 24" fill="none" stroke="#373D4D" stroke-width="2" stroke-linecap="round" stroke-linejoin="round" style="flex:none;position:absolute;left:1002px;top:23px;"><path d="M12 5v14"></path><path d="m19 12-7 7-7-7"></path></svg>
<div class="b" style="left:1037px;top:22px;width:1px;height:16px;background:#E2E8F0"></div>
<div class="b" style="left:1050px;top:14px;width:108px;height:32px;border:1px solid #E2E8F0;border-radius:6px;box-sizing:border-box;background:#fff;"></div>
<span class="t " style="left: 1063px; top: 20px; font-size: 14px; line-height: 20px; color: rgb(55, 61, 77); font-weight: 400; -webkit-text-stroke: 0.38px rgb(55, 61, 77); letter-spacing: 0.379px;">Go to thread</span>
<div class="b" style="left:1441px;top:14px;width:32px;height:32px;border:1px solid #E2E8F0;border-radius:6px;box-sizing:border-box;background:#fff;"></div>
<svg width="14" height="14" viewBox="0 0 24 24" fill="none" stroke="#373D4D" stroke-width="2" stroke-linecap="round" stroke-linejoin="round" style="flex:none;position:absolute;left:1450px;top:23px;"><circle cx="11" cy="11" r="8"></circle><path d="m21 21-4.3-4.3"></path></svg>
<div class="b" style="left:1481px;top:14px;width:32px;height:32px;border:1px solid #E2E8F0;border-radius:6px;box-sizing:border-box;background:#fff;"></div>
<svg width="14" height="14" viewBox="0 0 24 24" fill="none" stroke="#373D4D" stroke-width="2" stroke-linecap="round" stroke-linejoin="round" style="flex:none;position:absolute;left:1490px;top:23px;"><polygon points="22 3 2 3 10 12.46 10 19 14 21 14 12.46 22 3"></polygon></svg>
<div class="b" style="left:1525px;top:22px;width:1px;height:16px;background:#E2E8F0"></div>
<div class="b" style="left:1538px;top:14px;width:138px;height:32px;background:#5155F5;border-radius:6px"></div>
<svg width="14" height="14" viewBox="0 0 24 24" fill="none" stroke="#fff" stroke-width="2" stroke-linecap="round" stroke-linejoin="round" style="flex:none;position:absolute;left:1551px;top:23px;"><path d="M9.937 15.5A2 2 0 0 0 8.5 14.063l-6.135-1.582a.5.5 0 0 1 0-.962L8.5 9.936A2 2 0 0 0 9.937 8.5l1.582-6.135a.5.5 0 0 1 .963 0L14.063 8.5A2 2 0 0 0 15.5 9.937l6.135 1.581a.5.5 0 0 1 0 .964L15.5 14.063a2 2 0 0 0-1.437 1.437l-1.582 6.135a.5.5 0 0 1-.963 0z"></path><path d="M20 3v4"></path><path d="M22 5h-4"></path><path d="M4 17v2"></path><path d="M5 18H3"></path></svg>
<span class="t " style="left: 1570.5px; top: 20px; font-size: 14px; line-height: 20px; color: rgb(255, 255, 255); font-weight: 400; -webkit-text-stroke: 0.38px rgb(255, 255, 255); letter-spacing: 0.534px;">Debug with AI</span>
<div class="b" style="left:1684px;top:14px;width:159px;height:32px;background:#5155F5;border-radius:6px"></div>
<svg width="14" height="14" viewBox="0 0 24 24" fill="none" stroke="#fff" stroke-width="2" stroke-linecap="round" stroke-linejoin="round" style="flex:none;position:absolute;left:1696px;top:23px;"><rect x="16" y="16" width="6" height="6" rx="1"></rect><rect x="2" y="16" width="6" height="6" rx="1"></rect><rect x="9" y="2" width="6" height="6" rx="1"></rect><path d="M5 16v-3a1 1 0 0 1 1-1h12a1 1 0 0 1 1 1v3"></path><path d="M12 12V8"></path><path d="M3 3l18 18"></path></svg>
<span class="t " style="left: 1716px; top: 20px; font-size: 14px; line-height: 20px; color: rgb(255, 255, 255); font-weight: 400; -webkit-text-stroke: 0.38px rgb(255, 255, 255); letter-spacing: 0.439px;">Hide agent graph</span>
<div class="b" style="left:1855px;top:22px;width:1px;height:16px;background:#E2E8F0"></div>
<div class="b" style="left:1868px;top:14px;width:32px;height:32px;border:1px solid #E2E8F0;border-radius:6px;box-sizing:border-box;background:#fff;"></div>
<svg width="14" height="14" viewBox="0 0 24 24" fill="none" stroke="#373D4D" stroke-width="2" stroke-linecap="round" stroke-linejoin="round" style="flex:none;position:absolute;left:1877px;top:23px;"><circle cx="12" cy="12" r="1"></circle><circle cx="19" cy="12" r="1"></circle><circle cx="5" cy="12" r="1"></circle></svg>
<span class="t " style="left: 834px; top: 83px; font-size: 14px; line-height: 20px; color: rgb(11, 18, 32); font-weight: 400; -webkit-text-stroke: 0.38px rgb(11, 18, 32); letter-spacing: 0.43px;">Trace</span>
<span class="t " style="left: 876.4px; top: 83px; font-size: 14px; line-height: 20px; color: rgb(100, 116, 139); font-weight: 400; -webkit-text-stroke: 0.15px rgb(100, 116, 139); letter-spacing: 0.146px;">7 items</span>
<svg width="13" height="13" viewBox="0 0 24 24" fill="none" stroke="#94A3B8" stroke-width="2" stroke-linecap="round" stroke-linejoin="round" style="flex:none;position:absolute;left:927.5px;top:86.5px;"><circle cx="12" cy="12" r="10"></circle><path d="M12 16v-4"></path><path d="M12 8h.01"></path></svg>
<div class="b" style="left:1168px;top:81px;width:24px;height:24px;border:1px solid #E2E8F0;border-radius:6px;box-sizing:border-box;background:#fff;border-radius:5px"></div>
<svg width="12" height="12" viewBox="0 0 24 24" fill="none" stroke="#373D4D" stroke-width="2" stroke-linecap="round" stroke-linejoin="round" style="flex:none;position:absolute;left:1174px;top:87px;"><path d="M3 7V5a2 2 0 0 1 2-2h2"></path><path d="M17 3h2a2 2 0 0 1 2 2v2"></path><path d="M21 17v2a2 2 0 0 1-2 2h-2"></path><path d="M7 21H5a2 2 0 0 1-2-2v-2"></path><rect x="8" y="8" width="8" height="8" rx="1" fill="currentColor" fill-opacity="0.6" stroke-opacity="0.6"></rect></svg>
<div class="b" style="left:1198px;top:81px;width:24px;height:24px;border:1px solid #E2E8F0;border-radius:6px;box-sizing:border-box;background:#fff;border-radius:5px"></div>
<svg width="12" height="12" viewBox="0 0 24 24" fill="none" stroke="#373D4D" stroke-width="2" stroke-linecap="round" stroke-linejoin="round" style="flex:none;position:absolute;left:1204px;top:87px;"><path d="M12 22v-6"></path><path d="M12 8V2"></path><path d="M4 12H2"></path><path d="M10 12H8"></path><path d="M16 12h-2"></path><path d="M22 12h-2"></path><path d="m15 19-3-3-3 3"></path><path d="m15 5-3 3-3-3"></path></svg>
<div class="b" style="left:826px;top:117px;width:412px;height:84px;background:#F8FAFC;border-radius:8px"></div>
<div class="b" style="left:811px;top:61px;width:421px;height:1019px;overflow:hidden">
<div class="b" style="left:-811px;top:-61px;width:0;height:0">
<svg width="12" height="12" viewBox="0 0 24 24" fill="none" stroke="#56637A" stroke-width="2" stroke-linecap="round" stroke-linejoin="round" style="flex:none;position:absolute;left:834px;top:129px;"><path d="m6 9 6 6 6-6"></path></svg>
<div class="b" style="left:852px;top:125px;width:20px;height:20px;background:#EFE2FD;border-radius:5px"></div>
<svg width="12" height="12" viewBox="0 0 24 24" fill="none" stroke="#491B7E" stroke-width="2" stroke-linecap="round" stroke-linejoin="round" style="flex:none;position:absolute;left:856px;top:129px;"><rect x="3" y="3" width="18" height="18" rx="2"></rect><path d="M7.6 7.6h.01"></path><path d="M16.4 7.6h.01"></path><path d="M7.6 16.4h.01"></path><path d="M16.4 16.4h.01"></path></svg>
<span class="t " style="left: 880px; top: 125px; font-size: 14px; line-height: 20px; color: rgb(11, 18, 32); font-weight: 400; -webkit-text-stroke: 0.27px rgb(11, 18, 32); letter-spacing: 0.467px;">handle_query</span>
<svg width="12" height="12" viewBox="0 0 24 24" fill="none" stroke="#7A8AA3" stroke-width="2" stroke-linecap="round" stroke-linejoin="round" style="flex:none;position:absolute;left:852px;top:157px;"><circle cx="12" cy="12" r="10"></circle><polyline points="12 6 12 12 16 14"></polyline></svg><span class="t " style="left: 868px; top: 155px; font-size: 12px; line-height: 16px; color: rgb(100, 116, 139); font-weight: 400; -webkit-text-stroke: 0.46px rgb(100, 116, 139); letter-spacing: 0.204px;">4.7s</span><svg width="12" height="12" viewBox="0 0 24 24" fill="none" stroke="#7A8AA3" stroke-width="2" stroke-linecap="round" stroke-linejoin="round" style="flex:none;position:absolute;left:903.7px;top:157px;"><line x1="4" x2="20" y1="9" y2="9"></line><line x1="4" x2="20" y1="15" y2="15"></line><line x1="10" x2="8" y1="3" y2="21"></line><line x1="16" x2="14" y1="3" y2="21"></line></svg><span class="t " style="left: 919.7px; top: 155px; font-size: 12px; line-height: 16px; color: rgb(100, 116, 139); font-weight: 400; -webkit-text-stroke: 0.46px rgb(100, 116, 139); letter-spacing: 0.734px;">366</span><svg width="12" height="12" viewBox="0 0 24 24" fill="none" stroke="#7A8AA3" stroke-width="2" stroke-linecap="round" stroke-linejoin="round" style="flex:none;position:absolute;left:953.6px;top:157px;"><circle cx="8" cy="8" r="6"></circle><path d="M18.09 10.37A6 6 0 1 1 10.34 18"></path><path d="M7 6h1v4"></path><path d="m16.71 13.88.7.71-2.82 2.82"></path></svg><span class="t " style="left: 969.6px; top: 155px; font-size: 12px; line-height: 16px; color: rgb(100, 116, 139); font-weight: 400; -webkit-text-stroke: 0.46px rgb(100, 116, 139); letter-spacing: 0.547px;">&lt;$0.001</span>
<div class="b" style="left:848px;top:185px;width:384px;height:2px;background:#8B5CF6"></div>
<svg width="12" height="12" viewBox="0 0 24 24" fill="none" stroke="#56637A" stroke-width="2" stroke-linecap="round" stroke-linejoin="round" style="flex:none;position:absolute;left:846px;top:213px;"><path d="m6 9 6 6 6-6"></path></svg>
<div class="b" style="left:864px;top:209px;width:20px;height:20px;background:#DAFBF0;border-radius:5px"></div>
<svg width="12" height="12" viewBox="0 0 24 24" fill="none" stroke="#295747" stroke-width="2" stroke-linecap="round" stroke-linejoin="round" style="flex:none;position:absolute;left:868px;top:213px;"><path d="M10 13a5 5 0 0 0 7.54.54l3-3a5 5 0 0 0-7.07-7.07l-1.72 1.71"></path><path d="M14 11a5 5 0 0 0-7.54-.54l-3 3a5 5 0 0 0 7.07 7.07l1.71-1.71"></path></svg>
<span class="t " style="left: 892px; top: 209px; font-size: 14px; line-height: 20px; color: rgb(11, 18, 32); font-weight: 400; -webkit-text-stroke: 0.27px rgb(11, 18, 32); letter-spacing: 0.349px;">handle_query</span>
<svg width="12" height="12" viewBox="0 0 24 24" fill="none" stroke="#7A8AA3" stroke-width="2" stroke-linecap="round" stroke-linejoin="round" style="flex:none;position:absolute;left:864px;top:241px;"><circle cx="12" cy="12" r="10"></circle><polyline points="12 6 12 12 16 14"></polyline></svg><span class="t " style="left: 880px; top: 239px; font-size: 12px; line-height: 16px; color: rgb(100, 116, 139); font-weight: 400; -webkit-text-stroke: 0.46px rgb(100, 116, 139); letter-spacing: 0.204px;">4.7s</span>
<div class="b" style="left:848px;top:270px;width:384px;height:1px;background:#E2E8F0"></div>
<div class="b" style="left:848px;top:269px;width:384px;height:2px;background:#19A979"></div>
<svg width="12" height="12" viewBox="0 0 24 24" fill="none" stroke="#56637A" stroke-width="2" stroke-linecap="round" stroke-linejoin="round" style="flex:none;position:absolute;left:858px;top:297px;"><path d="m6 9 6 6 6-6"></path></svg>
<div class="b" style="left:876px;top:293px;width:20px;height:20px;background:#DAFBF0;border-radius:5px"></div>
<svg width="12" height="12" viewBox="0 0 24 24" fill="none" stroke="#295747" stroke-width="2" stroke-linecap="round" stroke-linejoin="round" style="flex:none;position:absolute;left:880px;top:297px;"><path d="M10 13a5 5 0 0 0 7.54.54l3-3a5 5 0 0 0-7.07-7.07l-1.72 1.71"></path><path d="M14 11a5 5 0 0 0-7.54-.54l-3 3a5 5 0 0 0 7.07 7.07l1.71-1.71"></path></svg>
<span class="t " style="left: 904px; top: 293px; font-size: 14px; line-height: 20px; color: rgb(11, 18, 32); font-weight: 400; -webkit-text-stroke: 0.27px rgb(11, 18, 32); letter-spacing: 0.331px;">classify_query</span>
<svg width="12" height="12" viewBox="0 0 24 24" fill="none" stroke="#7A8AA3" stroke-width="2" stroke-linecap="round" stroke-linejoin="round" style="flex:none;position:absolute;left:876px;top:325px;"><circle cx="12" cy="12" r="10"></circle><polyline points="12 6 12 12 16 14"></polyline></svg><span class="t " style="left: 892px; top: 323px; font-size: 12px; line-height: 16px; color: rgb(100, 116, 139); font-weight: 400; -webkit-text-stroke: 0.46px rgb(100, 116, 139); letter-spacing: 0.538px;">0.9s</span>
<div class="b" style="left:848px;top:354px;width:384px;height:1px;background:#E2E8F0"></div>
<div class="b" style="left:848px;top:353px;width:70px;height:2px;background:#19A979"></div>
<div class="b" style="left:888px;top:377px;width:20px;height:20px;background:#E2EFFD;border-radius:5px"></div>
<svg width="12" height="12" viewBox="0 0 24 24" fill="none" stroke="#19426B" stroke-width="2" stroke-linecap="round" stroke-linejoin="round" style="flex:none;position:absolute;left:892px;top:381px;"><path d="M7.9 20A9 9 0 1 0 4 16.1L2 22Z"></path></svg>
<span class="t " style="left: 916px; top: 377px; font-size: 14px; line-height: 20px; color: rgb(11, 18, 32); font-weight: 400; -webkit-text-stroke: 0.27px rgb(11, 18, 32); letter-spacing: 0.34px;">chat_completion_create</span>
<svg width="12" height="12" viewBox="0 0 24 24" fill="none" stroke="#7A8AA3" stroke-width="2" stroke-linecap="round" stroke-linejoin="round" style="flex:none;position:absolute;left:888px;top:409px;"><circle cx="12" cy="12" r="10"></circle><polyline points="12 6 12 12 16 14"></polyline></svg><span class="t " style="left: 904px; top: 407px; font-size: 12px; line-height: 16px; color: rgb(100, 116, 139); font-weight: 400; -webkit-text-stroke: 0.46px rgb(100, 116, 139); letter-spacing: 0.538px;">0.9s</span><svg width="12" height="12" viewBox="0 0 24 24" fill="none" stroke="#7A8AA3" stroke-width="2" stroke-linecap="round" stroke-linejoin="round" style="flex:none;position:absolute;left:940.7px;top:409px;"><line x1="4" x2="20" y1="9" y2="9"></line><line x1="4" x2="20" y1="15" y2="15"></line><line x1="10" x2="8" y1="3" y2="21"></line><line x1="16" x2="14" y1="3" y2="21"></line></svg><span class="t " style="left: 956.7px; top: 407px; font-size: 12px; line-height: 16px; color: rgb(100, 116, 139); font-weight: 400; -webkit-text-stroke: 0.46px rgb(100, 116, 139); letter-spacing: 0.641px;">95</span><svg width="12" height="12" viewBox="0 0 24 24" fill="none" stroke="#7A8AA3" stroke-width="2" stroke-linecap="round" stroke-linejoin="round" style="flex:none;position:absolute;left:983.1px;top:409px;"><circle cx="8" cy="8" r="6"></circle><path d="M18.09 10.37A6 6 0 1 1 10.34 18"></path><path d="M7 6h1v4"></path><path d="m16.71 13.88.7.71-2.82 2.82"></path></svg><span class="t " style="left: 999.1px; top: 407px; font-size: 12px; line-height: 16px; color: rgb(100, 116, 139); font-weight: 400; -webkit-text-stroke: 0.46px rgb(100, 116, 139); letter-spacing: 0.48px;">&lt;$0.001</span><svg width="12" height="12" viewBox="0 0 24 24" fill="none" stroke="#7A8AA3" stroke-width="2" stroke-linecap="round" stroke-linejoin="round" style="flex:none;position:absolute;left:1058.1px;top:409px;"><path d="M12.586 2.586A2 2 0 0 0 11.172 2H4a2 2 0 0 0-2 2v7.172a2 2 0 0 0 .586 1.414l8.704 8.704a2.426 2.426 0 0 0 3.42 0l6.58-6.58a2.426 2.426 0 0 0 0-3.42z"></path><circle cx="7.5" cy="7.5" r=".5" fill="currentColor"></circle></svg><span class="t " style="left: 1074.1px; top: 407px; font-size: 12px; line-height: 16px; color: rgb(100, 116, 139); font-weight: 400; -webkit-text-stroke: 0.46px rgb(100, 116, 139); letter-spacing: -1.2px;">1</span><svg width="12" height="12" viewBox="0 0 24 24" fill="none" stroke="#7A8AA3" stroke-width="2" stroke-linecap="round" stroke-linejoin="round" style="flex:none;position:absolute;left:1091.8999999999999px;top:409px;"><path d="M12 5a3 3 0 1 0-5.997.125 4 4 0 0 0-2.526 5.77 4 4 0 0 0 .556 6.588A4 4 0 1 0 12 18Z"></path><path d="M12 5a3 3 0 1 1 5.997.125 4 4 0 0 1 2.526 5.77 4 4 0 0 1-.556 6.588A4 4 0 1 1 12 18Z"></path><path d="M15 13a4.5 4.5 0 0 1-3-4 4.5 4.5 0 0 1-3 4"></path><path d="M17.599 6.5a3 3 0 0 0 .399-1.375"></path><path d="M6.003 5.125A3 3 0 0 0 6.401 6.5"></path><path d="M3.477 10.896a4 4 0 0 1 .585-.396"></path><path d="M19.938 10.5a4 4 0 0 1 .585.396"></path><path d="M6 18a4 4 0 0 1-1.967-.516"></path><path d="M19.967 17.484A4 4 0 0 1 18 18"></path></svg><span class="t " style="left:1107.8999999999999px;top:407.0px;font-size:12px;line-height:16px;color:#64748B;font-weight:400;-webkit-text-stroke:0.46px #64748B;letter-spacing:0.68px;white-space:nowrap">openai gpt-4o-mini-2024-07-18</span>
<div class="b" style="left:848px;top:438px;width:384px;height:1px;background:#E2E8F0"></div>
<div class="b" style="left:848px;top:437px;width:70px;height:2px;background:#3B7DED"></div>
<svg width="12" height="12" viewBox="0 0 24 24" fill="none" stroke="#56637A" stroke-width="2" stroke-linecap="round" stroke-linejoin="round" style="flex:none;position:absolute;left:858px;top:465px;"><path d="m6 9 6 6 6-6"></path></svg>
<div class="b" style="left:876px;top:461px;width:20px;height:20px;background:#FDE2F6;border-radius:5px"></div>
<svg width="12" height="12" viewBox="0 0 24 24" fill="none" stroke="#72275F" stroke-width="2" stroke-linecap="round" stroke-linejoin="round" style="flex:none;position:absolute;left:880px;top:465px;"><path d="m15 12-8.373 8.373a1 1 0 1 1-3-3L12 9"></path><path d="m18 15 4-4"></path><path d="m21.5 11.5-1.914-1.914A2 2 0 0 1 19 8.172V7l-2.26-2.26a6 6 0 0 0-4.202-1.756L9 2.96l.92.82A6.18 6.18 0 0 1 12 8.4V10l2 2h1.172a2 2 0 0 1 1.414.586L18.5 14.5"></path></svg>
<span class="t " style="left: 904px; top: 461px; font-size: 14px; line-height: 20px; color: rgb(11, 18, 32); font-weight: 400; -webkit-text-stroke: 0.27px rgb(11, 18, 32); letter-spacing: 0.365px;">contact_insight_tool</span>
<svg width="12" height="12" viewBox="0 0 24 24" fill="none" stroke="#7A8AA3" stroke-width="2" stroke-linecap="round" stroke-linejoin="round" style="flex:none;position:absolute;left:876px;top:493px;"><circle cx="12" cy="12" r="10"></circle><polyline points="12 6 12 12 16 14"></polyline></svg><span class="t " style="left: 892px; top: 491px; font-size: 12px; line-height: 16px; color: rgb(100, 116, 139); font-weight: 400; -webkit-text-stroke: 0.46px rgb(100, 116, 139); letter-spacing: -0.129px;">1.8s</span>
<div class="b" style="left:848px;top:522px;width:384px;height:1px;background:#E2E8F0"></div>
<div class="b" style="left:918px;top:521px;width:148px;height:2px;background:#BF399E"></div>
<div class="b" style="left:888px;top:545px;width:20px;height:20px;background:#E2EFFD;border-radius:5px"></div>
<svg width="12" height="12" viewBox="0 0 24 24" fill="none" stroke="#19426B" stroke-width="2" stroke-linecap="round" stroke-linejoin="round" style="flex:none;position:absolute;left:892px;top:549px;"><path d="M7.9 20A9 9 0 1 0 4 16.1L2 22Z"></path></svg>
<span class="t " style="left: 916px; top: 545px; font-size: 14px; line-height: 20px; color: rgb(11, 18, 32); font-weight: 400; -webkit-text-stroke: 0.27px rgb(11, 18, 32); letter-spacing: 0.34px;">chat_completion_create</span>
<svg width="12" height="12" viewBox="0 0 24 24" fill="none" stroke="#7A8AA3" stroke-width="2" stroke-linecap="round" stroke-linejoin="round" style="flex:none;position:absolute;left:888px;top:577px;"><circle cx="12" cy="12" r="10"></circle><polyline points="12 6 12 12 16 14"></polyline></svg><span class="t " style="left: 904px; top: 575px; font-size: 12px; line-height: 16px; color: rgb(100, 116, 139); font-weight: 400; -webkit-text-stroke: 0.46px rgb(100, 116, 139); letter-spacing: -0.129px;">1.8s</span><svg width="12" height="12" viewBox="0 0 24 24" fill="none" stroke="#7A8AA3" stroke-width="2" stroke-linecap="round" stroke-linejoin="round" style="flex:none;position:absolute;left:938.7px;top:577px;"><line x1="4" x2="20" y1="9" y2="9"></line><line x1="4" x2="20" y1="15" y2="15"></line><line x1="10" x2="8" y1="3" y2="21"></line><line x1="16" x2="14" y1="3" y2="21"></line></svg><span class="t " style="left: 954.7px; top: 575px; font-size: 12px; line-height: 16px; color: rgb(100, 116, 139); font-weight: 400; -webkit-text-stroke: 0.46px rgb(100, 116, 139); letter-spacing: -0.67px;">115</span><svg width="12" height="12" viewBox="0 0 24 24" fill="none" stroke="#7A8AA3" stroke-width="2" stroke-linecap="round" stroke-linejoin="round" style="flex:none;position:absolute;left:984.9000000000001px;top:577px;"><circle cx="8" cy="8" r="6"></circle><path d="M18.09 10.37A6 6 0 1 1 10.34 18"></path><path d="M7 6h1v4"></path><path d="m16.71 13.88.7.71-2.82 2.82"></path></svg><span class="t " style="left: 1000.9px; top: 575px; font-size: 12px; line-height: 16px; color: rgb(100, 116, 139); font-weight: 400; -webkit-text-stroke: 0.46px rgb(100, 116, 139); letter-spacing: 0.48px;">&lt;$0.001</span><svg width="12" height="12" viewBox="0 0 24 24" fill="none" stroke="#7A8AA3" stroke-width="2" stroke-linecap="round" stroke-linejoin="round" style="flex:none;position:absolute;left:1059.9px;top:577px;"><path d="M12.586 2.586A2 2 0 0 0 11.172 2H4a2 2 0 0 0-2 2v7.172a2 2 0 0 0 .586 1.414l8.704 8.704a2.426 2.426 0 0 0 3.42 0l6.58-6.58a2.426 2.426 0 0 0 0-3.42z"></path><circle cx="7.5" cy="7.5" r=".5" fill="currentColor"></circle></svg><span class="t " style="left: 1075.9px; top: 575px; font-size: 12px; line-height: 16px; color: rgb(100, 116, 139); font-weight: 400; -webkit-text-stroke: 0.46px rgb(100, 116, 139); letter-spacing: -1.2px;">1</span><svg width="12" height="12" viewBox="0 0 24 24" fill="none" stroke="#7A8AA3" stroke-width="2" stroke-linecap="round" stroke-linejoin="round" style="flex:none;position:absolute;left:1093.7px;top:577px;"><path d="M12 5a3 3 0 1 0-5.997.125 4 4 0 0 0-2.526 5.77 4 4 0 0 0 .556 6.588A4 4 0 1 0 12 18Z"></path><path d="M12 5a3 3 0 1 1 5.997.125 4 4 0 0 1 2.526 5.77 4 4 0 0 1-.556 6.588A4 4 0 1 1 12 18Z"></path><path d="M15 13a4.5 4.5 0 0 1-3-4 4.5 4.5 0 0 1-3 4"></path><path d="M17.599 6.5a3 3 0 0 0 .399-1.375"></path><path d="M6.003 5.125A3 3 0 0 0 6.401 6.5"></path><path d="M3.477 10.896a4 4 0 0 1 .585-.396"></path><path d="M19.938 10.5a4 4 0 0 1 .585.396"></path><path d="M6 18a4 4 0 0 1-1.967-.516"></path><path d="M19.967 17.484A4 4 0 0 1 18 18"></path></svg><span class="t " style="left:1109.7px;top:575.0px;font-size:12px;line-height:16px;color:#64748B;font-weight:400;-webkit-text-stroke:0.46px #64748B;letter-spacing:0.68px;white-space:nowrap">openai gpt-4o-mini-2024-07-18</span>
<div class="b" style="left:848px;top:606px;width:384px;height:1px;background:#E2E8F0"></div>
<div class="b" style="left:918px;top:605px;width:148px;height:2px;background:#3B7DED"></div>
<svg width="12" height="12" viewBox="0 0 24 24" fill="none" stroke="#56637A" stroke-width="2" stroke-linecap="round" stroke-linejoin="round" style="flex:none;position:absolute;left:858px;top:633px;"><path d="m6 9 6 6 6-6"></path></svg>
<div class="b" style="left:876px;top:629px;width:20px;height:20px;background:#DAFBF0;border-radius:5px"></div>
<svg width="12" height="12" viewBox="0 0 24 24" fill="none" stroke="#295747" stroke-width="2" stroke-linecap="round" stroke-linejoin="round" style="flex:none;position:absolute;left:880px;top:633px;"><path d="M10 13a5 5 0 0 0 7.54.54l3-3a5 5 0 0 0-7.07-7.07l-1.72 1.71"></path><path d="M14 11a5 5 0 0 0-7.54-.54l-3 3a5 5 0 0 0 7.07 7.07l1.71-1.71"></path></svg>
<span class="t " style="left: 904px; top: 629px; font-size: 14px; line-height: 20px; color: rgb(11, 18, 32); font-weight: 400; -webkit-text-stroke: 0.27px rgb(11, 18, 32); letter-spacing: 0.403px;">format_response</span>
<svg width="12" height="12" viewBox="0 0 24 24" fill="none" stroke="#7A8AA3" stroke-width="2" stroke-linecap="round" stroke-linejoin="round" style="flex:none;position:absolute;left:876px;top:661px;"><circle cx="12" cy="12" r="10"></circle><polyline points="12 6 12 12 16 14"></polyline></svg><span class="t " style="left: 892px; top: 659px; font-size: 12px; line-height: 16px; color: rgb(100, 116, 139); font-weight: 400; -webkit-text-stroke: 0.46px rgb(100, 116, 139); letter-spacing: 0.813px;">2s</span>
<div class="b" style="left:848px;top:690px;width:384px;height:1px;background:#E2E8F0"></div>
<div class="b" style="left:1066px;top:689px;width:166px;height:2px;background:#19A979"></div>
<div class="b" style="left:888px;top:713px;width:20px;height:20px;background:#E2EFFD;border-radius:5px"></div>
<svg width="12" height="12" viewBox="0 0 24 24" fill="none" stroke="#19426B" stroke-width="2" stroke-linecap="round" stroke-linejoin="round" style="flex:none;position:absolute;left:892px;top:717px;"><path d="M7.9 20A9 9 0 1 0 4 16.1L2 22Z"></path></svg>
<span class="t " style="left: 916px; top: 713px; font-size: 14px; line-height: 20px; color: rgb(11, 18, 32); font-weight: 400; -webkit-text-stroke: 0.27px rgb(11, 18, 32); letter-spacing: 0.34px;">chat_completion_create</span>
<svg width="12" height="12" viewBox="0 0 24 24" fill="none" stroke="#7A8AA3" stroke-width="2" stroke-linecap="round" stroke-linejoin="round" style="flex:none;position:absolute;left:888px;top:745px;"><circle cx="12" cy="12" r="10"></circle><polyline points="12 6 12 12 16 14"></polyline></svg><span class="t " style="left: 904px; top: 743px; font-size: 12px; line-height: 16px; color: rgb(100, 116, 139); font-weight: 400; -webkit-text-stroke: 0.46px rgb(100, 116, 139); letter-spacing: 0.813px;">2s</span><svg width="12" height="12" viewBox="0 0 24 24" fill="none" stroke="#7A8AA3" stroke-width="2" stroke-linecap="round" stroke-linejoin="round" style="flex:none;position:absolute;left:929.9px;top:745px;"><line x1="4" x2="20" y1="9" y2="9"></line><line x1="4" x2="20" y1="15" y2="15"></line><line x1="10" x2="8" y1="3" y2="21"></line><line x1="16" x2="14" y1="3" y2="21"></line></svg><span class="t " style="left: 945.9px; top: 743px; font-size: 12px; line-height: 16px; color: rgb(100, 116, 139); font-weight: 400; -webkit-text-stroke: 0.46px rgb(100, 116, 139); letter-spacing: -0.266px;">156</span><svg width="12" height="12" viewBox="0 0 24 24" fill="none" stroke="#7A8AA3" stroke-width="2" stroke-linecap="round" stroke-linejoin="round" style="flex:none;position:absolute;left:977.8px;top:745px;"><circle cx="8" cy="8" r="6"></circle><path d="M18.09 10.37A6 6 0 1 1 10.34 18"></path><path d="M7 6h1v4"></path><path d="m16.71 13.88.7.71-2.82 2.82"></path></svg><span class="t " style="left: 993.8px; top: 743px; font-size: 12px; line-height: 16px; color: rgb(100, 116, 139); font-weight: 400; -webkit-text-stroke: 0.46px rgb(100, 116, 139); letter-spacing: 0.48px;">&lt;$0.001</span><svg width="12" height="12" viewBox="0 0 24 24" fill="none" stroke="#7A8AA3" stroke-width="2" stroke-linecap="round" stroke-linejoin="round" style="flex:none;position:absolute;left:1052.8px;top:745px;"><path d="M12.586 2.586A2 2 0 0 0 11.172 2H4a2 2 0 0 0-2 2v7.172a2 2 0 0 0 .586 1.414l8.704 8.704a2.426 2.426 0 0 0 3.42 0l6.58-6.58a2.426 2.426 0 0 0 0-3.42z"></path><circle cx="7.5" cy="7.5" r=".5" fill="currentColor"></circle></svg><span class="t " style="left: 1068.8px; top: 743px; font-size: 12px; line-height: 16px; color: rgb(100, 116, 139); font-weight: 400; -webkit-text-stroke: 0.46px rgb(100, 116, 139); letter-spacing: -1.2px;">1</span><svg width="12" height="12" viewBox="0 0 24 24" fill="none" stroke="#7A8AA3" stroke-width="2" stroke-linecap="round" stroke-linejoin="round" style="flex:none;position:absolute;left:1086.6px;top:745px;"><path d="M12 5a3 3 0 1 0-5.997.125 4 4 0 0 0-2.526 5.77 4 4 0 0 0 .556 6.588A4 4 0 1 0 12 18Z"></path><path d="M12 5a3 3 0 1 1 5.997.125 4 4 0 0 1 2.526 5.77 4 4 0 0 1-.556 6.588A4 4 0 1 1 12 18Z"></path><path d="M15 13a4.5 4.5 0 0 1-3-4 4.5 4.5 0 0 1-3 4"></path><path d="M17.599 6.5a3 3 0 0 0 .399-1.375"></path><path d="M6.003 5.125A3 3 0 0 0 6.401 6.5"></path><path d="M3.477 10.896a4 4 0 0 1 .585-.396"></path><path d="M19.938 10.5a4 4 0 0 1 .585.396"></path><path d="M6 18a4 4 0 0 1-1.967-.516"></path><path d="M19.967 17.484A4 4 0 0 1 18 18"></path></svg><span class="t " style="left:1102.6px;top:743.0px;font-size:12px;line-height:16px;color:#64748B;font-weight:400;-webkit-text-stroke:0.46px #64748B;letter-spacing:0.68px;white-space:nowrap">openai gpt-4o-mini-2024-07-18</span>
<div class="b" style="left:848px;top:774px;width:384px;height:1px;background:#E2E8F0"></div>
<div class="b" style="left:1066px;top:773px;width:166px;height:2px;background:#3B7DED"></div>
</div></div>
<div class="b" style="left:1760px;top:77px;width:24px;height:24px;border:1px solid #E2E8F0;border-radius:6px;box-sizing:border-box;background:#fff;border-radius:5px;"></div>
<svg width="12" height="12" viewBox="0 0 24 24" fill="none" stroke="#373D4D" stroke-width="2" stroke-linecap="round" stroke-linejoin="round" style="flex:none;position:absolute;left:1766px;top:83px;"><path d="M18 11V6a2 2 0 0 0-2-2a2 2 0 0 0-2 2"></path><path d="M14 10V4a2 2 0 0 0-2-2a2 2 0 0 0-2 2v2"></path><path d="M10 10.5V6a2 2 0 0 0-2-2a2 2 0 0 0-2 2v8"></path><path d="M18 8a2 2 0 1 1 4 0v6a8 8 0 0 1-8 8h-2c-2.8 0-4.5-.86-5.99-2.34l-3.6-3.6a2 2 0 0 1 2.83-2.82L7 15"></path></svg>
<div class="b" style="left:1790px;top:77px;width:24px;height:24px;border:1px solid #E2E8F0;border-radius:6px;box-sizing:border-box;background:#fff;border-radius:5px;"></div>
<svg width="12" height="12" viewBox="0 0 24 24" fill="none" stroke="#373D4D" stroke-width="2" stroke-linecap="round" stroke-linejoin="round" style="flex:none;position:absolute;left:1796px;top:83px;"><circle cx="11" cy="11" r="8"></circle><line x1="21" x2="16.65" y1="21" y2="16.65"></line><line x1="11" x2="11" y1="8" y2="14"></line><line x1="8" x2="14" y1="11" y2="11"></line></svg>
<div class="b" style="left:1820px;top:77px;width:24px;height:24px;border:1px solid #E2E8F0;border-radius:6px;box-sizing:border-box;background:#fff;border-radius:5px;"></div>
<svg width="12" height="12" viewBox="0 0 24 24" fill="none" stroke="#373D4D" stroke-width="2" stroke-linecap="round" stroke-linejoin="round" style="flex:none;position:absolute;left:1826px;top:83px;"><circle cx="11" cy="11" r="8"></circle><line x1="21" x2="16.65" y1="21" y2="16.65"></line><line x1="8" x2="14" y1="11" y2="11"></line></svg>
<div class="b" style="left:1850px;top:77px;width:24px;height:24px;border:1px solid #E2E8F0;border-radius:6px;box-sizing:border-box;background:#fff;border-radius:5px;opacity:0.55;"></div>
<svg width="12" height="12" viewBox="0 0 24 24" fill="none" stroke="#373D4D" stroke-width="2" stroke-linecap="round" stroke-linejoin="round" style="flex:none;position:absolute;left:1856px;top:83px;opacity:0.55;"><path d="M3 12a9 9 0 1 0 9-9 9.75 9.75 0 0 0-6.74 2.74L3 8"></path><path d="M3 3v5h5"></path></svg>
<div class="b" style="left:1880px;top:77px;width:24px;height:24px;border:1px solid #E2E8F0;border-radius:6px;box-sizing:border-box;background:#fff;border-radius:5px;"></div>
<svg width="12" height="12" viewBox="0 0 24 24" fill="none" stroke="#373D4D" stroke-width="2" stroke-linecap="round" stroke-linejoin="round" style="flex:none;position:absolute;left:1886px;top:83px;"><path d="m15 15 6 6"></path><path d="m15 9 6-6"></path><path d="M21 16v5h-5"></path><path d="M21 8V3h-5"></path><path d="M3 16v5h5"></path><path d="m3 21 6-6"></path><path d="M3 8V3h5"></path><path d="M9 9 3 3"></path></svg>
<svg class="b" style="left:1420px;top:90px" width="340" height="230" viewBox="1420 90 340 230" font-family="Liberation Sans, sans-serif" font-size="5.2">
<path d="M1542.5,113.2 C1515,120 1480.2,128 1480.2,145 L1480.2,223.6" fill="none" stroke="#4a4a4a" stroke-width="0.42" stroke-dasharray="1.1 0.9"></path>
<path d="M0,0 L-2.6,-1.25 L-2.6,1.25 Z" fill="#333" transform="translate(1480.2,225) rotate(90)"></path>
<path d="M1573.2,113.2 C1595,119 1612,123 1624,126.8 C1632,129.5 1635.3,133 1635.3,139" fill="none" stroke="#4a4a4a" stroke-width="0.42" stroke-dasharray="1.1 0.9"></path>
<path d="M0,0 L-2.6,-1.25 L-2.6,1.25 Z" fill="#333" transform="translate(1635.3,140.5) rotate(90)"></path>
<path d="M1635.2,158 L1635.2,181.4" fill="none" stroke="#4a4a4a" stroke-width="0.42"></path>
<path d="M0,0 L-2.6,-1.25 L-2.6,1.25 Z" fill="#333" transform="translate(1635.2,182.8) rotate(90)"></path>
<path d="M1612.3,198.3 C1590,204 1575,208.5 1567,211.8 C1560,214.8 1558.2,218 1558.2,223.6" fill="none" stroke="#4a4a4a" stroke-width="0.42" stroke-dasharray="1.1 0.9"></path>
<path d="M0,0 L-2.6,-1.25 L-2.6,1.25 Z" fill="#333" transform="translate(1558.2,225) rotate(90)"></path>
<path d="M1635.2,200 L1635.2,223.6" fill="none" stroke="#4a4a4a" stroke-width="0.42"></path>
<path d="M0,0 L-2.6,-1.25 L-2.6,1.25 Z" fill="#333" transform="translate(1635.2,225) rotate(90)"></path>
<path d="M1657.8,198.3 C1672,202.5 1686,207.5 1697,211.8 C1702.5,214.2 1703.3,218 1703.3,223.6" fill="none" stroke="#4a4a4a" stroke-width="0.42" stroke-dasharray="1.1 0.9"></path>
<path d="M0,0 L-2.6,-1.25 L-2.6,1.25 Z" fill="#333" transform="translate(1703.3,225) rotate(90)"></path>
<path d="M1480.2,242.4 L1480.2,246 C1480.2,252 1530,258 1568.3,263.6" fill="none" stroke="#4a4a4a" stroke-width="0.42" stroke-dasharray="1.1 0.9"></path>
<path d="M0,0 L-2.6,-1.25 L-2.6,1.25 Z" fill="#333" transform="translate(1570.2,263.9) rotate(8)"></path>
<path d="M1558.2,242.4 L1558.2,246 C1558.2,252 1566,255 1575.3,258.3" fill="none" stroke="#4a4a4a" stroke-width="0.42" stroke-dasharray="1.1 0.9"></path>
<path d="M0,0 L-2.6,-1.25 L-2.6,1.25 Z" fill="#333" transform="translate(1577,258.9) rotate(20)"></path>
<path d="M1635.2,242.4 L1635.2,246 C1635.2,252 1628,255 1618.4,258.3" fill="none" stroke="#4a4a4a" stroke-width="0.42" stroke-dasharray="1.1 0.9"></path>
<path d="M0,0 L-2.6,-1.25 L-2.6,1.25 Z" fill="#333" transform="translate(1616.7,258.9) rotate(160)"></path>
<path d="M1703.3,242.4 L1703.3,246 C1703.3,253 1660,258 1625,263.6" fill="none" stroke="#4a4a4a" stroke-width="0.42" stroke-dasharray="1.1 0.9"></path>
<path d="M0,0 L-2.6,-1.25 L-2.6,1.25 Z" fill="#333" transform="translate(1623,263.9) rotate(172)"></path>
<path d="M1596.6,276.5 L1596.6,291.5" fill="none" stroke="#4a4a4a" stroke-width="0.42"></path>
<path d="M0,0 L-2.6,-1.25 L-2.6,1.25 Z" fill="#333" transform="translate(1596.6,292.9) rotate(90)"></path>
<rect x="1624.0" y="124.0" width="22.7" height="8.0" fill="#E8E8E8" fill-opacity="0.85"></rect>
<text x="1635.3" y="129.8" text-anchor="middle" textLength="21.9" lengthAdjust="spacingAndGlyphs" fill="#333">messages</text>
<rect x="1463.5" y="166.0" width="33.5" height="8.3" fill="#E8E8E8" fill-opacity="0.85"></rect>
<text x="1480.2" y="171.9" text-anchor="middle" textLength="32.8" lengthAdjust="spacingAndGlyphs" fill="#333">first_message</text>
<rect x="1548.9" y="208.3" width="18.2" height="8.1" fill="#E8E8E8" fill-opacity="0.85"></rect>
<text x="1558.0" y="214.2" text-anchor="middle" textLength="17.7" lengthAdjust="spacingAndGlyphs" fill="#333">contact</text>
<rect x="1629.4" y="208.3" width="11.7" height="8.1" fill="#E8E8E8" fill-opacity="0.85"></rect>
<text x="1635.2" y="214.2" text-anchor="middle" textLength="11.0" lengthAdjust="spacingAndGlyphs" fill="#333">sales</text>
<rect x="1697.0" y="208.3" width="13.0" height="8.1" fill="#E8E8E8" fill-opacity="0.85"></rect>
<text x="1703.5" y="214.2" text-anchor="middle" textLength="12.1" lengthAdjust="spacingAndGlyphs" fill="#333">other</text>
<rect x="1542.0" y="103.2" width="31.7" height="12.6" rx="6.3" fill="#fff" stroke="#CFC3F5" stroke-width="0.6"></rect>
<text x="1557.8" y="111.2" text-anchor="middle" textLength="22.8" lengthAdjust="spacingAndGlyphs" fill="#333">__start__</text>
<rect x="1609.2" y="140.4" width="52.3" height="17.5" rx="1.2" fill="#F2F0FF" stroke="#CFC3F5" stroke-width="0.6"></rect>
<text x="1635.4" y="150.9" text-anchor="middle" textLength="41.5" lengthAdjust="spacingAndGlyphs" fill="#333">combine_queries</text>
<rect x="1612.2" y="182.8" width="45.5" height="17.2" rx="1.2" fill="#F2F0FF" stroke="#CFC3F5" stroke-width="0.6"></rect>
<text x="1635.0" y="193.2" text-anchor="middle" textLength="34.5" lengthAdjust="spacingAndGlyphs" fill="#333">classify_query</text>
<rect x="1449.4" y="225.0" width="61.6" height="17.4" rx="1.2" fill="#F2F0FF" stroke="#CFC3F5" stroke-width="0.6"></rect>
<text x="1480.2" y="235.4" text-anchor="middle" textLength="50.2" lengthAdjust="spacingAndGlyphs" fill="#333">ask_for_clarification</text>
<rect x="1527.5" y="225.0" width="61.3" height="17.4" rx="1.2" fill="#F2F0FF" stroke="#CFC3F5" stroke-width="0.6"></rect>
<text x="1558.2" y="235.4" text-anchor="middle" textLength="50.2" lengthAdjust="spacingAndGlyphs" fill="#333">contact_insight_tool</text>
<rect x="1605.3" y="225.0" width="60.0" height="17.4" rx="1.2" fill="#F2F0FF" stroke="#CFC3F5" stroke-width="0.6"></rect>
<text x="1635.3" y="235.4" text-anchor="middle" textLength="49.2" lengthAdjust="spacingAndGlyphs" fill="#333">sales_analytics_tool</text>
<rect x="1682.0" y="225.0" width="42.7" height="17.4" rx="1.2" fill="#F2F0FF" stroke="#CFC3F5" stroke-width="0.6"></rect>
<text x="1703.3" y="235.4" text-anchor="middle" textLength="31.7" lengthAdjust="spacingAndGlyphs" fill="#333">fallback_tool</text>
<rect x="1570.7" y="259.5" width="51.8" height="17.0" rx="1.2" fill="#F2F0FF" stroke="#CFC3F5" stroke-width="0.6"></rect>
<text x="1596.6" y="269.8" text-anchor="middle" textLength="40.9" lengthAdjust="spacingAndGlyphs" fill="#333">format_response</text>
<rect x="1582.2" y="292.9" width="28.8" height="12.6" rx="6.3" fill="#BFB6FC" stroke="#BFB6FC" stroke-width="0.4"></rect>
<text x="1596.6" y="300.9" text-anchor="middle" textLength="20.0" lengthAdjust="spacingAndGlyphs" fill="#333">__end__</text>
</svg>
<div class="b" style="left:1255px;top:348px;width:665px;height:1px;background:#E2E8F0"></div>
<div class="b" style="left:1271px;top:371px;width:20px;height:20px;background:#EFE2FD;border-radius:5px"></div>
<svg width="12" height="12" viewBox="0 0 24 24" fill="none" stroke="#491B7E" stroke-width="2" stroke-linecap="round" stroke-linejoin="round" style="flex:none;position:absolute;left:1275px;top:375px;"><rect x="3" y="3" width="18" height="18" rx="2"></rect><path d="M7.6 7.6h.01"></path><path d="M16.4 7.6h.01"></path><path d="M7.6 16.4h.01"></path><path d="M16.4 16.4h.01"></path></svg>
<span class="t " style="left: 1298.3px; top: 371px; font-size: 14px; line-height: 20px; color: rgb(11, 18, 32); font-weight: 400; -webkit-text-stroke: 0.38px rgb(11, 18, 32); letter-spacing: 0.558px;">handle_query</span>
<div class="b" style="left:1714px;top:365px;width:94px;height:32px;border:1px solid #E2E8F0;border-radius:6px;box-sizing:border-box;background:#fff;"></div>
<span class="t " style="left: 1727.5px; top: 371px; font-size: 14px; line-height: 20px; color: rgb(55, 61, 77); font-weight: 400; -webkit-text-stroke: 0.38px rgb(55, 61, 77); letter-spacing: 0.503px;">Add to</span>
<svg width="14" height="14" viewBox="0 0 24 24" fill="none" stroke="#373D4D" stroke-width="2" stroke-linecap="round" stroke-linejoin="round" style="flex:none;position:absolute;left:1780px;top:374px;"><path d="m6 9 6 6 6-6"></path></svg>
<div class="b" style="left:1816px;top:365px;width:40px;height:32px;border:1px solid #E2E8F0;border-radius:6px;box-sizing:border-box;background:#fff;"></div>
<svg width="14" height="14" viewBox="0 0 24 24" fill="none" stroke="#373D4D" stroke-width="2" stroke-linecap="round" stroke-linejoin="round" style="flex:none;position:absolute;left:1829px;top:374px;"><path d="M21 15a2 2 0 0 1-2 2H7l-4 4V5a2 2 0 0 1 2-2h14a2 2 0 0 1 2 2z"></path><path d="M8 10h.01"></path><path d="M12 10h.01"></path><path d="M16 10h.01"></path></svg>
<div class="b" style="left:1864px;top:365px;width:40px;height:32px;border:1px solid #E2E8F0;border-radius:6px;box-sizing:border-box;background:#fff;"></div>
<svg width="14" height="14" viewBox="0 0 24 24" fill="none" stroke="#373D4D" stroke-width="2" stroke-linecap="round" stroke-linejoin="round" style="flex:none;position:absolute;left:1877px;top:374px;"><path d="M12 20h9"></path><path d="M16.376 3.622a1 1 0 0 1 3.002 3.002L7.368 18.635a2 2 0 0 1-.855.506l-2.872.838a.5.5 0 0 1-.62-.62l.838-2.872a2 2 0 0 1 .506-.854z"></path></svg>
<svg width="12" height="12" viewBox="0 0 24 24" fill="none" stroke="#7A8AA3" stroke-width="2" stroke-linecap="round" stroke-linejoin="round" style="flex:none;position:absolute;left:1271px;top:402.5px;"><circle cx="12" cy="12" r="10"></circle><polyline points="12 6 12 12 16 14"></polyline></svg>
<span class="t " style="left: 1287px; top: 400.5px; font-size: 12px; line-height: 16px; color: rgb(100, 116, 139); font-weight: 400; -webkit-text-stroke: 0.46px rgb(100, 116, 139); letter-spacing: 0.038px;">4.7s</span>
<svg width="12" height="12" viewBox="0 0 24 24" fill="none" stroke="#7A8AA3" stroke-width="2" stroke-linecap="round" stroke-linejoin="round" style="flex:none;position:absolute;left:1322.2px;top:402.5px;"><line x1="4" x2="20" y1="9" y2="9"></line><line x1="4" x2="20" y1="15" y2="15"></line><line x1="10" x2="8" y1="3" y2="21"></line><line x1="16" x2="14" y1="3" y2="21"></line></svg>
<span class="t " style="left: 1338.2px; top: 400.5px; font-size: 12px; line-height: 16px; color: rgb(100, 116, 139); font-weight: 400; -webkit-text-stroke: 0.46px rgb(100, 116, 139); letter-spacing: 1.034px;">366</span>
<svg width="12" height="12" viewBox="0 0 24 24" fill="none" stroke="#7A8AA3" stroke-width="2" stroke-linecap="round" stroke-linejoin="round" style="flex:none;position:absolute;left:1372.7px;top:402.5px;"><circle cx="8" cy="8" r="6"></circle><path d="M18.09 10.37A6 6 0 1 1 10.34 18"></path><path d="M7 6h1v4"></path><path d="m16.71 13.88.7.71-2.82 2.82"></path></svg>
<span class="t " style="left: 1388.7px; top: 400.5px; font-size: 12px; line-height: 16px; color: rgb(100, 116, 139); font-weight: 400; -webkit-text-stroke: 0.46px rgb(100, 116, 139); letter-spacing: 0.397px;">&lt;$0.001</span>
<svg width="16" height="16" viewBox="0 0 24 24" fill="none" stroke="#373D4D" stroke-width="2" stroke-linecap="round" stroke-linejoin="round" style="flex:none;position:absolute;left:1275px;top:427px;"><path d="M12.586 2.586A2 2 0 0 0 11.172 2H4a2 2 0 0 0-2 2v7.172a2 2 0 0 0 .586 1.414l8.704 8.704a2.426 2.426 0 0 0 3.42 0l6.58-6.58a2.426 2.426 0 0 0 0-3.42z"></path><circle cx="7.5" cy="7.5" r=".5" fill="currentColor"></circle></svg>
<div class="b" style="left:1301px;top:423px;width:24px;height:24px;border:1px solid #E2E8F0;border-radius:6px;box-sizing:border-box;background:#fff;border-radius:5px"></div>
<svg width="12" height="12" viewBox="0 0 24 24" fill="none" stroke="#373D4D" stroke-width="2" stroke-linecap="round" stroke-linejoin="round" style="flex:none;position:absolute;left:1307px;top:429px;"><path d="M5 12h14"></path><path d="M12 5v14"></path></svg>
<span class="t " style="left: 1274.4px; top: 481px; font-size: 14px; line-height: 20px; color: rgb(81, 85, 245); font-weight: 400; -webkit-text-stroke: 0.38px rgb(81, 85, 245); letter-spacing: 0.722px;">Input/Output</span>
<span class="t " style="left: 1391.5px; top: 481px; font-size: 14px; line-height: 20px; color: rgb(55, 61, 77); font-weight: 400; -webkit-text-stroke: 0.38px rgb(55, 61, 77); letter-spacing: 0.492px;">Feedback scores</span>
<svg width="14" height="14" viewBox="0 0 24 24" fill="none" stroke="#94A3B8" stroke-width="2" stroke-linecap="round" stroke-linejoin="round" style="flex:none;position:absolute;left:1509.5px;top:484px;"><circle cx="12" cy="12" r="10"></circle><path d="M12 16v-4"></path><path d="M12 8h.01"></path></svg>
<span class="t " style="left: 1556px; top: 481px; font-size: 14px; line-height: 20px; color: rgb(55, 61, 77); font-weight: 400; -webkit-text-stroke: 0.38px rgb(55, 61, 77); letter-spacing: 0.618px;">Metadata</span>
<div class="b" style="left:1271px;top:511px;width:633px;height:1px;background:#E2E8F0"></div>
<div class="b" style="left:1275px;top:509px;width:84.5px;height:2px;background:#5155F5"></div>
<span class="t " style="left: 1282.7px; top: 546px; font-size: 14px; line-height: 20px; color: rgb(55, 61, 77); font-weight: 400; -webkit-text-stroke: 0.15px rgb(55, 61, 77); letter-spacing: 0.54px;">Input</span><svg width="16" height="16" viewBox="0 0 24 24" fill="none" stroke="#373D4D" stroke-width="2" stroke-linecap="round" stroke-linejoin="round" style="flex:none;position:absolute;left:1876px;top:548px;"><path d="m18 15-6-6-6 6"></path></svg><div class="b" style="left:1271px;top:584px;width:633px;height:84px;background:#F8FAFC;border-radius:6px"></div><div class="b" style="left:1271px;top:623px;width:633px;height:1px;background:#E2E8F0"></div><span class="t " style="left: 1282.7px; top: 594px; font-size: 14px; line-height: 20px; color: rgb(55, 61, 77); font-weight: 400; -webkit-text-stroke: 0.15px rgb(55, 61, 77); letter-spacing: 0.484px;">Pretty</span><span class="t " style="left:1326.5px;top:594.0px;font-size:13px;line-height:20px;color:#F5B638;font-weight:400;-webkit-text-stroke:0.14px #F5B638;font-family:'DejaVu Sans',sans-serif">✨</span><svg width="14" height="14" viewBox="0 0 24 24" fill="none" stroke="#64748B" stroke-width="2" stroke-linecap="round" stroke-linejoin="round" style="flex:none;position:absolute;left:1353px;top:597px;"><path d="m6 9 6 6 6-6"></path></svg><svg width="14" height="14" viewBox="0 0 24 24" fill="none" stroke="#373D4D" stroke-width="2" stroke-linecap="round" stroke-linejoin="round" style="flex:none;position:absolute;left:1839px;top:597px;"><circle cx="11" cy="11" r="8"></circle><path d="m21 21-4.3-4.3"></path></svg><svg width="14" height="14" viewBox="0 0 24 24" fill="none" stroke="#373D4D" stroke-width="2" stroke-linecap="round" stroke-linejoin="round" style="flex:none;position:absolute;left:1873px;top:597px;"><rect width="14" height="14" x="8" y="8" rx="2" ry="2"></rect><path d="M4 16c-1.1 0-2-.9-2-2V4c0-1.1.9-2 2-2h10c1.1 0 2 .9 2 2"></path></svg><span class="t " style="left: 1282.7px; top: 636px; font-size: 14px; line-height: 20px; color: rgb(55, 61, 77); font-weight: 400; -webkit-text-stroke: 0.15px rgb(55, 61, 77); letter-spacing: 0.709px;">Check for the latest deal</span><div class="b" style="left:1271px;top:684px;width:633px;height:1px;background:#E2E8F0"></div>
<span class="t " style="left: 1282.7px; top: 703px; font-size: 14px; line-height: 20px; color: rgb(55, 61, 77); font-weight: 400; -webkit-text-stroke: 0.15px rgb(55, 61, 77); letter-spacing: 0.534px;">Output</span><svg width="16" height="16" viewBox="0 0 24 24" fill="none" stroke="#373D4D" stroke-width="2" stroke-linecap="round" stroke-linejoin="round" style="flex:none;position:absolute;left:1876px;top:705px;"><path d="m18 15-6-6-6 6"></path></svg><div class="b" style="left:1271px;top:741px;width:633px;height:123.5px;background:#F8FAFC;border-radius:6px"></div><div class="b" style="left:1271px;top:780px;width:633px;height:1px;background:#E2E8F0"></div><span class="t " style="left: 1282.7px; top: 751px; font-size: 14px; line-height: 20px; color: rgb(55, 61, 77); font-weight: 400; -webkit-text-stroke: 0.15px rgb(55, 61, 77); letter-spacing: 0.484px;">Pretty</span><span class="t " style="left:1326.5px;top:751.0px;font-size:13px;line-height:20px;color:#F5B638;font-weight:400;-webkit-text-stroke:0.14px #F5B638;font-family:'DejaVu Sans',sans-serif">✨</span><svg width="14" height="14" viewBox="0 0 24 24" fill="none" stroke="#64748B" stroke-width="2" stroke-linecap="round" stroke-linejoin="round" style="flex:none;position:absolute;left:1353px;top:754px;"><path d="m6 9 6 6 6-6"></path></svg><svg width="14" height="14" viewBox="0 0 24 24" fill="none" stroke="#373D4D" stroke-width="2" stroke-linecap="round" stroke-linejoin="round" style="flex:none;position:absolute;left:1839px;top:754px;"><circle cx="11" cy="11" r="8"></circle><path d="m21 21-4.3-4.3"></path></svg><svg width="14" height="14" viewBox="0 0 24 24" fill="none" stroke="#373D4D" stroke-width="2" stroke-linecap="round" stroke-linejoin="round" style="flex:none;position:absolute;left:1873px;top:754px;"><rect width="14" height="14" x="8" y="8" rx="2" ry="2"></rect><path d="M4 16c-1.1 0-2-.9-2-2V4c0-1.1.9-2 2-2h10c1.1 0 2 .9 2 2"></path></svg><span class="t " style="left: 1282.7px; top: 793px; font-size: 14px; line-height: 20px; color: rgb(55, 61, 77); font-weight: 400; -webkit-text-stroke: 0.15px rgb(55, 61, 77); letter-spacing: 0.743px;">The status of John Smith's latest deal has been successfully updated to 'Negotiation'.</span><span class="t " style="left: 1282.7px; top: 813px; font-size: 14px; line-height: 20px; color: rgb(55, 61, 77); font-weight: 400; -webkit-text-stroke: 0.15px rgb(55, 61, 77); letter-spacing: 0.697px;">This deal is currently valued at $50,000 and was last updated on October 10, 2023. If</span><span class="t " style="left: 1282.7px; top: 833px; font-size: 14px; line-height: 20px; color: rgb(55, 61, 77); font-weight: 400; -webkit-text-stroke: 0.15px rgb(55, 61, 77); letter-spacing: 0.709px;">you need any further assistance, feel free to ask!</span><div class="b" style="left:1271px;top:881.0px;width:633px;height:1px;background:#E2E8F0"></div>
</section>
</body></html>
